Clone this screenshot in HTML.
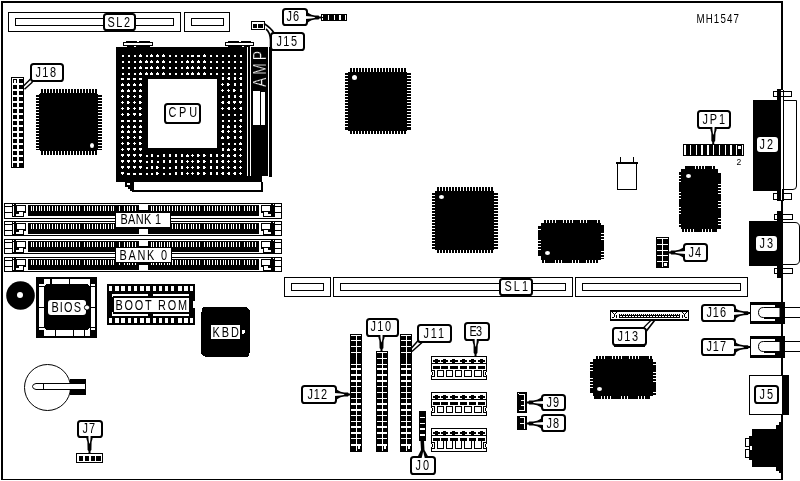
<!DOCTYPE html>
<html><head><meta charset="utf-8"><title>MH1547 motherboard layout</title>
<style>
html,body{margin:0;padding:0;background:#fff;}
body{width:800px;height:481px;overflow:hidden;}
svg{display:block;filter:grayscale(1);font-family:"Liberation Sans",sans-serif;}
</style></head><body>
<svg width="800" height="481" viewBox="0 0 800 481" shape-rendering="crispEdges">
<rect x="0" y="0" width="800" height="481" fill="#fff"/>
<rect x="1" y="1" width="782" height="2" fill="#000"/>
<rect x="1" y="1" width="2" height="479" fill="#000"/>
<rect x="1" y="479" width="782" height="1" fill="#000"/>
<rect x="781" y="1" width="2" height="479" fill="#000"/>
<rect x="8" y="12" width="173" height="20" fill="#000"/>
<rect x="9" y="13" width="171" height="18" fill="#fff"/>
<rect x="15" y="18" width="159" height="8" fill="#000"/>
<rect x="16" y="19" width="157" height="6" fill="#fff"/>
<rect x="184" y="12" width="46" height="20" fill="#000"/>
<rect x="185" y="13" width="44" height="18" fill="#fff"/>
<rect x="191" y="18" width="33" height="8" fill="#000"/>
<rect x="192" y="19" width="31" height="6" fill="#fff"/>
<rect x="104.0" y="14.0" width="31" height="16" rx="2.6" ry="2.6" fill="#fff" stroke="#000" stroke-width="2" shape-rendering="auto"/>
<text transform="translate(107.4,27) scale(0.78,1)" font-size="14" textLength="29.0" lengthAdjust="spacing" fill="#000" >SL2</text>
<rect x="283.0" y="9.0" width="24" height="16" rx="2.6" ry="2.6" fill="#fff" stroke="#000" stroke-width="2" shape-rendering="auto"/>
<text transform="translate(286.4,21) scale(0.78,1)" font-size="14" textLength="16.2" lengthAdjust="spacing" fill="#000" >J6</text>
<polygon points="307.5,12.2 309.25,13.6 311.55,14.7 314.93,15.45 318.57,15.6 319.38,16.5 321.0,16.5 321.0,18.5 319.38,18.5 318.57,19.4 314.93,19.55 311.55,20.3 309.25,21.4 307.5,22.8" fill="#000" shape-rendering="auto"/>
<polygon points="305.2,15.95 311.28,16.45 314.25,17.0 315.33,17.5 314.25,18.0 311.28,18.55 305.2,19.05" fill="#fff" shape-rendering="auto"/>
<rect x="321" y="14" width="26" height="7" fill="#000"/>
<rect x="322" y="15" width="1" height="5" fill="#fff"/>
<rect x="328" y="15" width="1" height="5" fill="#fff"/>
<rect x="334" y="15" width="1" height="5" fill="#fff"/>
<rect x="339" y="15" width="2" height="5" fill="#fff"/>
<rect x="345" y="15" width="1" height="5" fill="#fff"/>
<rect x="322" y="17" width="1" height="1" fill="#000"/>
<rect x="251" y="21" width="14" height="9" fill="#000"/>
<rect x="252" y="22" width="12" height="7" fill="#fff"/>
<rect x="253" y="24" width="4" height="4" fill="#000"/>
<rect x="258" y="24" width="5" height="4" fill="#000"/>
<path d="M264 23.5 Q271 28 274 33 M266 29 Q270 32 270.5 40 L270.5 47" fill="none" stroke="#000" stroke-width="1.6" shape-rendering="auto"/>
<rect x="271.0" y="33.0" width="33" height="17" rx="2.6" ry="2.6" fill="#fff" stroke="#000" stroke-width="2" shape-rendering="auto"/>
<text transform="translate(276.4,46) scale(0.78,1)" font-size="14" textLength="26.4" lengthAdjust="spacing" fill="#000" >J15</text>
<rect x="126" y="41" width="24" height="1" fill="#000"/>
<rect x="123" y="42" width="30" height="4" fill="#000"/>
<rect x="124" y="43" width="28" height="2" fill="#fff"/>
<rect x="137" y="41" width="2" height="1" fill="#fff"/>
<rect x="228" y="41" width="23" height="1" fill="#000"/>
<rect x="225" y="42" width="29" height="4" fill="#000"/>
<rect x="226" y="43" width="27" height="2" fill="#fff"/>
<rect x="239" y="41" width="2" height="1" fill="#fff"/>
<rect x="127" y="46" width="7" height="1" fill="#000"/>
<rect x="136" y="46" width="14" height="1" fill="#000"/>
<rect x="228" y="46" width="14" height="1" fill="#000"/>
<rect x="244" y="46" width="6" height="1" fill="#000"/>
<rect x="116" y="47" width="131" height="135" fill="#000"/>
<rect x="248" y="47" width="2" height="129" fill="#000"/>
<rect x="251" y="47" width="17" height="129" fill="#000"/>
<rect x="269" y="47" width="3" height="130" fill="#000"/>
<rect x="247" y="176" width="15" height="6" fill="#000"/>
<rect x="132" y="182" width="131" height="10" fill="#000"/>
<rect x="134" y="182" width="127" height="8" fill="#fff"/>
<rect x="125" y="182" width="9" height="5" fill="#000"/>
<rect x="128" y="187" width="6" height="2" fill="#000"/>
<rect x="130" y="189" width="4" height="2" fill="#000"/>
<rect x="127" y="183" width="3" height="2" fill="#fff"/>
<rect x="148" y="79" width="69" height="69" fill="#fff"/>
<path d="M122 55h2v1h-2zM122 56h2v1h-2zM128 55h2v1h-2zM128 56h2v1h-2zM134 55h2v1h-2zM134 56h2v1h-2zM140 54h1v1h-1zM139 55h3v1h-3zM139 56h3v1h-3zM146 55h2v1h-2zM146 56h2v1h-2zM151 54h1v1h-1zM150 55h3v1h-3zM150 56h3v1h-3zM157 54h1v1h-1zM156 55h3v1h-3zM156 56h3v1h-3zM163 54h1v1h-1zM162 55h3v1h-3zM162 56h3v1h-3zM169 55h2v1h-2zM169 56h2v1h-2zM175 55h2v1h-2zM175 56h2v1h-2zM181 55h2v1h-2zM181 56h2v1h-2zM187 55h2v1h-2zM187 56h2v1h-2zM191 55h3v1h-3zM191 56h3v1h-3zM197 55h3v1h-3zM197 56h3v1h-3zM204 54h1v1h-1zM203 55h3v1h-3zM203 56h3v1h-3zM210 55h2v1h-2zM210 56h2v1h-2zM216 55h2v1h-2zM216 56h2v1h-2zM222 55h2v1h-2zM222 56h2v1h-2zM228 55h2v1h-2zM228 56h2v1h-2zM234 55h2v1h-2zM234 56h2v1h-2zM240 55h2v1h-2zM240 56h2v1h-2zM122 61h2v1h-2zM122 62h2v1h-2zM128 61h2v1h-2zM128 62h2v1h-2zM134 61h2v1h-2zM134 62h2v1h-2zM140 60h1v1h-1zM139 61h3v1h-3zM139 62h3v1h-3zM146 60h1v1h-1zM145 61h3v1h-3zM145 62h3v1h-3zM151 60h1v1h-1zM150 61h3v1h-3zM150 62h3v1h-3zM157 60h1v1h-1zM156 61h3v1h-3zM156 62h3v1h-3zM163 60h1v1h-1zM162 61h3v1h-3zM162 62h3v1h-3zM169 61h2v1h-2zM169 62h2v1h-2zM175 61h2v1h-2zM175 62h2v1h-2zM181 61h2v1h-2zM181 62h2v1h-2zM187 60h1v1h-1zM186 61h3v1h-3zM186 62h3v1h-3zM192 60h1v1h-1zM191 61h3v1h-3zM191 62h3v1h-3zM198 60h1v1h-1zM197 61h3v1h-3zM197 62h3v1h-3zM204 60h1v1h-1zM203 61h3v1h-3zM203 62h3v1h-3zM210 61h2v1h-2zM210 62h2v1h-2zM216 61h2v1h-2zM216 62h2v1h-2zM222 61h2v1h-2zM222 62h2v1h-2zM228 61h2v1h-2zM228 62h2v1h-2zM234 61h2v1h-2zM234 62h2v1h-2zM240 61h2v1h-2zM240 62h2v1h-2zM122 67h2v1h-2zM122 68h2v1h-2zM128 67h2v1h-2zM128 68h2v1h-2zM134 67h2v1h-2zM134 68h2v1h-2zM140 66h1v1h-1zM139 67h3v1h-3zM139 68h3v1h-3zM145 67h3v1h-3zM145 68h3v1h-3zM151 66h1v1h-1zM150 67h3v1h-3zM150 68h3v1h-3zM157 66h1v1h-1zM156 67h3v1h-3zM156 68h3v1h-3zM163 66h1v1h-1zM162 67h3v1h-3zM162 68h3v1h-3zM169 67h2v1h-2zM169 68h2v1h-2zM175 67h2v1h-2zM175 68h2v1h-2zM181 67h2v1h-2zM181 68h2v1h-2zM187 66h1v1h-1zM186 67h3v1h-3zM186 68h3v1h-3zM192 66h1v1h-1zM191 67h3v1h-3zM191 68h3v1h-3zM198 66h1v1h-1zM197 67h3v1h-3zM197 68h3v1h-3zM204 66h1v1h-1zM203 67h3v1h-3zM203 68h3v1h-3zM210 67h2v1h-2zM210 68h2v1h-2zM216 67h2v1h-2zM216 68h2v1h-2zM222 67h2v1h-2zM222 68h2v1h-2zM228 67h2v1h-2zM228 68h2v1h-2zM234 67h2v1h-2zM234 68h2v1h-2zM240 67h2v1h-2zM240 68h2v1h-2zM122 73h2v1h-2zM122 74h2v1h-2zM128 73h2v1h-2zM128 74h2v1h-2zM134 73h2v1h-2zM134 74h2v1h-2zM140 72h1v1h-1zM139 73h3v1h-3zM139 74h3v1h-3zM146 72h1v1h-1zM145 73h3v1h-3zM145 74h3v1h-3zM151 72h1v1h-1zM150 73h3v1h-3zM150 74h3v1h-3zM157 72h1v1h-1zM156 73h3v1h-3zM156 74h3v1h-3zM163 72h1v1h-1zM162 73h3v1h-3zM162 74h3v1h-3zM169 73h2v1h-2zM169 74h2v1h-2zM175 73h2v1h-2zM175 74h2v1h-2zM181 73h2v1h-2zM181 74h2v1h-2zM187 72h1v1h-1zM186 73h3v1h-3zM186 74h3v1h-3zM192 72h1v1h-1zM191 73h3v1h-3zM191 74h3v1h-3zM198 72h1v1h-1zM197 73h3v1h-3zM197 74h3v1h-3zM204 72h1v1h-1zM203 73h3v1h-3zM203 74h3v1h-3zM210 73h2v1h-2zM210 74h2v1h-2zM216 73h2v1h-2zM216 74h2v1h-2zM222 73h2v1h-2zM222 74h2v1h-2zM228 73h2v1h-2zM228 74h2v1h-2zM234 73h2v1h-2zM234 74h2v1h-2zM240 73h2v1h-2zM240 74h2v1h-2zM121 78h3v1h-3zM121 79h3v1h-3zM127 78h3v1h-3zM127 79h3v1h-3zM133 78h3v1h-3zM133 79h3v1h-3zM139 78h3v1h-3zM139 79h3v1h-3zM222 77h2v1h-2zM222 78h2v1h-2zM222 79h2v1h-2zM228 77h2v1h-2zM227 78h3v1h-3zM228 79h2v1h-2zM234 77h2v1h-2zM234 78h2v1h-2zM234 79h2v1h-2zM240 77h2v1h-2zM239 78h3v1h-3zM240 79h2v1h-2zM122 83h1v1h-1zM121 84h3v1h-3zM121 85h3v1h-3zM128 83h1v1h-1zM127 84h3v1h-3zM127 85h3v1h-3zM134 83h1v1h-1zM133 84h3v1h-3zM133 85h3v1h-3zM140 83h1v1h-1zM139 84h3v1h-3zM139 85h3v1h-3zM222 83h1v1h-1zM221 84h3v1h-3zM222 85h1v1h-1zM227 83h2v1h-2zM227 84h3v1h-3zM227 85h2v1h-2zM234 83h2v1h-2zM234 84h2v1h-2zM234 85h2v1h-2zM240 83h2v1h-2zM240 84h2v1h-2zM240 85h2v1h-2zM122 89h1v1h-1zM121 90h3v1h-3zM121 91h3v1h-3zM128 89h1v1h-1zM127 90h3v1h-3zM127 91h3v1h-3zM134 89h1v1h-1zM133 90h3v1h-3zM133 91h3v1h-3zM140 89h1v1h-1zM139 90h3v1h-3zM139 91h3v1h-3zM222 89h1v1h-1zM221 90h3v1h-3zM222 91h1v1h-1zM228 89h1v1h-1zM227 90h3v1h-3zM228 91h1v1h-1zM233 89h2v1h-2zM233 90h3v1h-3zM233 91h2v1h-2zM240 89h2v1h-2zM240 90h2v1h-2zM240 91h2v1h-2zM122 95h1v1h-1zM121 96h3v1h-3zM122 97h1v1h-1zM127 95h2v1h-2zM127 96h3v1h-3zM127 97h2v1h-2zM134 95h1v1h-1zM133 96h3v1h-3zM134 97h1v1h-1zM139 95h2v1h-2zM139 96h3v1h-3zM139 97h2v1h-2zM222 96h2v1h-2zM222 97h2v1h-2zM228 95h2v1h-2zM228 96h2v1h-2zM228 97h2v1h-2zM234 95h2v1h-2zM234 96h2v1h-2zM234 97h2v1h-2zM240 95h2v1h-2zM239 96h3v1h-3zM240 97h2v1h-2zM122 101h1v1h-1zM121 102h3v1h-3zM122 103h1v1h-1zM127 101h2v1h-2zM127 102h3v1h-3zM127 103h2v1h-2zM134 101h1v1h-1zM133 102h3v1h-3zM134 103h1v1h-1zM139 101h2v1h-2zM139 102h3v1h-3zM139 103h2v1h-2zM222 101h2v1h-2zM221 102h3v1h-3zM222 103h2v1h-2zM228 101h2v1h-2zM227 102h3v1h-3zM228 103h2v1h-2zM233 101h3v1h-3zM233 102h3v1h-3zM234 103h1v1h-1zM239 101h3v1h-3zM239 102h3v1h-3zM240 103h1v1h-1zM122 107h1v1h-1zM121 108h3v1h-3zM122 109h1v1h-1zM127 107h2v1h-2zM127 108h3v1h-3zM127 109h2v1h-2zM134 107h1v1h-1zM133 108h3v1h-3zM134 109h1v1h-1zM139 107h2v1h-2zM139 108h3v1h-3zM139 109h2v1h-2zM222 107h1v1h-1zM221 108h3v1h-3zM222 109h1v1h-1zM228 107h2v1h-2zM227 108h3v1h-3zM228 109h2v1h-2zM234 107h1v1h-1zM233 108h3v1h-3zM234 109h1v1h-1zM240 107h2v1h-2zM239 108h3v1h-3zM240 109h2v1h-2zM122 113h1v1h-1zM121 114h3v1h-3zM122 115h1v1h-1zM127 113h2v1h-2zM127 114h3v1h-3zM127 115h2v1h-2zM133 113h3v1h-3zM133 114h3v1h-3zM134 115h1v1h-1zM139 113h2v1h-2zM139 114h3v1h-3zM139 115h2v1h-2zM222 114h2v1h-2zM222 115h2v1h-2zM228 114h2v1h-2zM228 115h2v1h-2zM234 114h2v1h-2zM234 115h2v1h-2zM240 114h2v1h-2zM240 115h2v1h-2zM121 120h3v1h-3zM121 121h3v1h-3zM127 120h3v1h-3zM127 121h3v1h-3zM133 120h3v1h-3zM133 121h3v1h-3zM139 120h3v1h-3zM139 121h3v1h-3zM222 120h2v1h-2zM222 121h2v1h-2zM228 120h2v1h-2zM228 121h2v1h-2zM234 120h2v1h-2zM234 121h2v1h-2zM240 119h2v1h-2zM239 120h3v1h-3zM240 121h2v1h-2zM122 125h1v1h-1zM121 126h3v1h-3zM121 127h3v1h-3zM128 125h1v1h-1zM127 126h3v1h-3zM127 127h3v1h-3zM134 125h1v1h-1zM133 126h3v1h-3zM133 127h3v1h-3zM140 125h1v1h-1zM139 126h3v1h-3zM139 127h3v1h-3zM222 125h2v1h-2zM222 126h2v1h-2zM222 127h2v1h-2zM228 125h1v1h-1zM227 126h3v1h-3zM227 127h3v1h-3zM234 125h2v1h-2zM234 126h2v1h-2zM234 127h2v1h-2zM240 125h1v1h-1zM239 126h3v1h-3zM240 127h1v1h-1zM122 130h1v1h-1zM121 131h3v1h-3zM121 132h3v1h-3zM128 130h1v1h-1zM127 131h3v1h-3zM127 132h3v1h-3zM134 130h1v1h-1zM133 131h3v1h-3zM133 132h3v1h-3zM140 130h1v1h-1zM139 131h3v1h-3zM139 132h3v1h-3zM222 130h2v1h-2zM221 131h3v1h-3zM222 132h2v1h-2zM228 130h1v1h-1zM227 131h3v1h-3zM228 132h1v1h-1zM234 130h2v1h-2zM233 131h3v1h-3zM234 132h2v1h-2zM240 130h1v1h-1zM239 131h3v1h-3zM240 132h1v1h-1zM122 136h1v1h-1zM121 137h3v1h-3zM122 138h1v1h-1zM127 136h2v1h-2zM127 137h3v1h-3zM127 138h2v1h-2zM134 136h1v1h-1zM133 137h3v1h-3zM134 138h1v1h-1zM139 136h2v1h-2zM139 137h3v1h-3zM139 138h2v1h-2zM222 136h1v1h-1zM221 137h3v1h-3zM221 138h3v1h-3zM227 136h2v1h-2zM227 137h3v1h-3zM227 138h2v1h-2zM234 136h2v1h-2zM234 137h2v1h-2zM234 138h2v1h-2zM240 136h2v1h-2zM239 137h3v1h-3zM240 138h2v1h-2zM122 142h1v1h-1zM121 143h3v1h-3zM122 144h1v1h-1zM127 142h2v1h-2zM127 143h3v1h-3zM127 144h2v1h-2zM134 142h1v1h-1zM133 143h3v1h-3zM134 144h1v1h-1zM139 142h2v1h-2zM139 143h3v1h-3zM139 144h2v1h-2zM222 143h2v1h-2zM222 144h2v1h-2zM228 143h2v1h-2zM228 144h2v1h-2zM234 143h2v1h-2zM234 144h2v1h-2zM240 142h1v1h-1zM239 143h3v1h-3zM239 144h3v1h-3zM122 148h1v1h-1zM121 149h3v1h-3zM122 150h1v1h-1zM127 148h3v1h-3zM127 149h3v1h-3zM128 150h1v1h-1zM133 148h3v1h-3zM133 149h3v1h-3zM134 150h1v1h-1zM139 148h3v1h-3zM139 149h3v1h-3zM140 150h1v1h-1zM222 148h2v1h-2zM222 149h2v1h-2zM222 150h2v1h-2zM228 148h1v1h-1zM227 149h3v1h-3zM227 150h3v1h-3zM234 148h2v1h-2zM233 149h3v1h-3zM234 150h2v1h-2zM240 148h1v1h-1zM239 149h3v1h-3zM240 150h1v1h-1zM121 154h3v1h-3zM121 155h3v1h-3zM122 156h1v1h-1zM127 154h3v1h-3zM127 155h3v1h-3zM128 156h1v1h-1zM133 154h3v1h-3zM133 155h3v1h-3zM134 156h1v1h-1zM139 154h3v1h-3zM139 155h3v1h-3zM140 156h1v1h-1zM146 155h2v1h-2zM146 156h2v1h-2zM151 154h2v1h-2zM151 155h2v1h-2zM151 156h2v1h-2zM157 155h2v1h-2zM157 156h2v1h-2zM163 154h2v1h-2zM163 155h2v1h-2zM163 156h2v1h-2zM169 154h2v1h-2zM169 155h2v1h-2zM169 156h2v1h-2zM175 154h2v1h-2zM175 155h2v1h-2zM175 156h2v1h-2zM181 154h2v1h-2zM181 155h2v1h-2zM181 156h2v1h-2zM187 154h1v1h-1zM186 155h3v1h-3zM186 156h3v1h-3zM192 154h1v1h-1zM191 155h3v1h-3zM192 156h1v1h-1zM197 154h2v1h-2zM197 155h3v1h-3zM197 156h2v1h-2zM203 154h2v1h-2zM203 155h3v1h-3zM203 156h2v1h-2zM210 154h2v1h-2zM210 155h2v1h-2zM210 156h2v1h-2zM216 154h2v1h-2zM216 155h2v1h-2zM216 156h2v1h-2zM222 154h2v1h-2zM221 155h3v1h-3zM222 156h2v1h-2zM228 154h1v1h-1zM227 155h3v1h-3zM227 156h3v1h-3zM234 154h2v1h-2zM233 155h3v1h-3zM234 156h2v1h-2zM240 154h1v1h-1zM239 155h3v1h-3zM240 156h1v1h-1zM121 160h3v1h-3zM121 161h3v1h-3zM122 162h1v1h-1zM127 160h3v1h-3zM127 161h3v1h-3zM128 162h1v1h-1zM133 160h3v1h-3zM133 161h3v1h-3zM134 162h1v1h-1zM139 160h3v1h-3zM139 161h3v1h-3zM140 162h1v1h-1zM146 161h2v1h-2zM146 162h2v1h-2zM151 160h2v1h-2zM151 161h2v1h-2zM151 162h2v1h-2zM157 161h2v1h-2zM157 162h2v1h-2zM163 160h2v1h-2zM163 161h2v1h-2zM163 162h2v1h-2zM169 160h2v1h-2zM169 161h2v1h-2zM169 162h2v1h-2zM175 160h2v1h-2zM175 161h2v1h-2zM175 162h2v1h-2zM181 160h2v1h-2zM181 161h2v1h-2zM181 162h2v1h-2zM187 160h1v1h-1zM186 161h3v1h-3zM187 162h1v1h-1zM192 160h1v1h-1zM191 161h3v1h-3zM192 162h1v1h-1zM197 160h2v1h-2zM197 161h3v1h-3zM197 162h2v1h-2zM203 160h2v1h-2zM203 161h3v1h-3zM203 162h2v1h-2zM210 160h2v1h-2zM210 161h2v1h-2zM210 162h2v1h-2zM216 160h2v1h-2zM216 161h2v1h-2zM216 162h2v1h-2zM222 160h2v1h-2zM221 161h3v1h-3zM222 162h2v1h-2zM228 160h1v1h-1zM227 161h3v1h-3zM228 162h1v1h-1zM234 160h2v1h-2zM233 161h3v1h-3zM234 162h2v1h-2zM240 160h1v1h-1zM239 161h3v1h-3zM240 162h1v1h-1zM121 166h3v1h-3zM121 167h3v1h-3zM122 168h1v1h-1zM127 166h3v1h-3zM127 167h3v1h-3zM128 168h1v1h-1zM133 166h3v1h-3zM133 167h3v1h-3zM134 168h1v1h-1zM139 166h3v1h-3zM139 167h3v1h-3zM140 168h1v1h-1zM146 167h2v1h-2zM146 168h2v1h-2zM151 166h2v1h-2zM151 167h2v1h-2zM151 168h2v1h-2zM156 166h2v1h-2zM156 167h3v1h-3zM156 168h2v1h-2zM163 167h2v1h-2zM163 168h2v1h-2zM169 167h2v1h-2zM169 168h2v1h-2zM175 166h2v1h-2zM175 167h2v1h-2zM175 168h2v1h-2zM181 166h2v1h-2zM181 167h2v1h-2zM181 168h2v1h-2zM187 166h1v1h-1zM186 167h3v1h-3zM187 168h1v1h-1zM192 166h1v1h-1zM191 167h3v1h-3zM192 168h1v1h-1zM197 166h2v1h-2zM197 167h3v1h-3zM197 168h2v1h-2zM203 166h2v1h-2zM203 167h3v1h-3zM203 168h2v1h-2zM210 166h2v1h-2zM210 167h2v1h-2zM210 168h2v1h-2zM216 166h2v1h-2zM216 167h2v1h-2zM216 168h2v1h-2zM222 166h2v1h-2zM221 167h3v1h-3zM222 168h2v1h-2zM228 166h1v1h-1zM227 167h3v1h-3zM228 168h1v1h-1zM234 166h2v1h-2zM233 167h3v1h-3zM234 168h2v1h-2zM240 166h1v1h-1zM239 167h3v1h-3zM240 168h1v1h-1zM121 172h3v1h-3zM121 173h3v1h-3zM122 174h1v1h-1zM127 173h3v1h-3zM127 174h3v1h-3zM133 173h3v1h-3zM133 174h3v1h-3zM139 173h3v1h-3zM139 174h3v1h-3zM146 173h2v1h-2zM146 174h2v1h-2zM151 173h2v1h-2zM151 174h2v1h-2zM156 172h2v1h-2zM156 173h3v1h-3zM156 174h2v1h-2zM163 173h2v1h-2zM163 174h2v1h-2zM169 173h2v1h-2zM169 174h2v1h-2zM175 172h2v1h-2zM175 173h2v1h-2zM175 174h2v1h-2zM181 172h2v1h-2zM181 173h2v1h-2zM181 174h2v1h-2zM187 172h1v1h-1zM186 173h3v1h-3zM187 174h1v1h-1zM192 172h1v1h-1zM191 173h3v1h-3zM192 174h1v1h-1zM197 172h2v1h-2zM197 173h3v1h-3zM197 174h2v1h-2zM203 172h2v1h-2zM203 173h3v1h-3zM203 174h2v1h-2zM210 172h2v1h-2zM210 173h2v1h-2zM210 174h2v1h-2zM216 172h2v1h-2zM216 173h2v1h-2zM216 174h2v1h-2zM222 172h2v1h-2zM221 173h3v1h-3zM222 174h2v1h-2zM228 172h2v1h-2zM227 173h3v1h-3zM228 174h2v1h-2zM234 172h2v1h-2zM233 173h3v1h-3zM234 174h2v1h-2zM240 172h1v1h-1zM239 173h3v1h-3zM240 174h1v1h-1z" fill="#fff"/>
<rect x="165.0" y="104.0" width="35" height="19" rx="2.6" ry="2.6" fill="#fff" stroke="#000" stroke-width="2" shape-rendering="auto"/>
<text transform="translate(168.4,117) scale(0.78,1)" font-size="14" textLength="36.7" lengthAdjust="spacing" fill="#000" >CPU</text>
<text transform="translate(265.5,87) rotate(-90) scale(0.8,1)" font-size="17.5" fill="#fff" stroke="#000" stroke-width="0.35" textLength="45" lengthAdjust="spacing">AMP</text>
<rect x="253" y="91" width="7" height="34" fill="#fff"/>
<rect x="261" y="92" width="4" height="33" fill="#fff"/>
<rect x="11" y="77" width="13" height="91" fill="#000"/>
<rect x="12" y="78" width="11" height="89" fill="#fff"/>
<rect x="13" y="79" width="4" height="4" fill="#000"/>
<rect x="19" y="79" width="5" height="4" fill="#000"/>
<rect x="13" y="85" width="4" height="4" fill="#000"/>
<rect x="19" y="85" width="5" height="4" fill="#000"/>
<rect x="13" y="91" width="4" height="4" fill="#000"/>
<rect x="19" y="91" width="5" height="4" fill="#000"/>
<rect x="13" y="97" width="4" height="4" fill="#000"/>
<rect x="19" y="97" width="5" height="4" fill="#000"/>
<rect x="13" y="103" width="4" height="4" fill="#000"/>
<rect x="19" y="103" width="5" height="4" fill="#000"/>
<rect x="13" y="109" width="4" height="4" fill="#000"/>
<rect x="19" y="109" width="5" height="4" fill="#000"/>
<rect x="13" y="115" width="4" height="4" fill="#000"/>
<rect x="19" y="115" width="5" height="4" fill="#000"/>
<rect x="13" y="121" width="4" height="4" fill="#000"/>
<rect x="19" y="121" width="5" height="4" fill="#000"/>
<rect x="13" y="127" width="4" height="4" fill="#000"/>
<rect x="19" y="127" width="5" height="4" fill="#000"/>
<rect x="13" y="133" width="4" height="4" fill="#000"/>
<rect x="19" y="133" width="5" height="4" fill="#000"/>
<rect x="13" y="139" width="4" height="4" fill="#000"/>
<rect x="19" y="139" width="5" height="4" fill="#000"/>
<rect x="13" y="145" width="4" height="4" fill="#000"/>
<rect x="19" y="145" width="5" height="4" fill="#000"/>
<rect x="13" y="151" width="4" height="4" fill="#000"/>
<rect x="19" y="151" width="5" height="4" fill="#000"/>
<rect x="13" y="157" width="4" height="4" fill="#000"/>
<rect x="19" y="157" width="5" height="4" fill="#000"/>
<rect x="13" y="163" width="4" height="4" fill="#000"/>
<rect x="19" y="163" width="5" height="4" fill="#000"/>
<rect x="14" y="80" width="2" height="3" fill="#fff"/>
<path d="M23.5 86 L30.5 79 M24.5 89.2 L32.5 82" fill="none" stroke="#000" stroke-width="1.5" shape-rendering="auto"/>
<rect x="31.0" y="64.0" width="32" height="17" rx="2.6" ry="2.6" fill="#fff" stroke="#000" stroke-width="2" shape-rendering="auto"/>
<text transform="translate(35.4,77) scale(0.78,1)" font-size="14" textLength="26.4" lengthAdjust="spacing" fill="#000" >J18</text>
<rect x="39" y="93" width="59" height="58" fill="#000"/>
<rect x="36" y="95" width="3" height="55" fill="#000"/>
<rect x="98" y="95" width="4" height="55" fill="#000"/>
<rect x="41" y="89" width="56" height="4" fill="#000"/>
<rect x="41" y="151" width="56" height="4" fill="#000"/>
<rect x="36" y="97" width="3" height="1" fill="#fff"/>
<rect x="36" y="100" width="3" height="1" fill="#fff"/>
<rect x="36" y="103" width="3" height="1" fill="#fff"/>
<rect x="36" y="106" width="3" height="1" fill="#fff"/>
<rect x="36" y="109" width="3" height="1" fill="#fff"/>
<rect x="36" y="112" width="3" height="1" fill="#fff"/>
<rect x="36" y="115" width="3" height="1" fill="#fff"/>
<rect x="36" y="118" width="3" height="1" fill="#fff"/>
<rect x="36" y="121" width="3" height="1" fill="#fff"/>
<rect x="36" y="124" width="3" height="1" fill="#fff"/>
<rect x="36" y="127" width="3" height="1" fill="#fff"/>
<rect x="36" y="130" width="3" height="1" fill="#fff"/>
<rect x="36" y="133" width="3" height="1" fill="#fff"/>
<rect x="36" y="136" width="3" height="1" fill="#fff"/>
<rect x="36" y="139" width="3" height="1" fill="#fff"/>
<rect x="36" y="142" width="3" height="1" fill="#fff"/>
<rect x="36" y="145" width="3" height="1" fill="#fff"/>
<rect x="36" y="148" width="3" height="1" fill="#fff"/>
<rect x="98" y="97" width="4" height="1" fill="#fff"/>
<rect x="98" y="100" width="4" height="1" fill="#fff"/>
<rect x="98" y="103" width="4" height="1" fill="#fff"/>
<rect x="98" y="106" width="4" height="1" fill="#fff"/>
<rect x="98" y="109" width="4" height="1" fill="#fff"/>
<rect x="98" y="112" width="4" height="1" fill="#fff"/>
<rect x="98" y="115" width="4" height="1" fill="#fff"/>
<rect x="98" y="118" width="4" height="1" fill="#fff"/>
<rect x="98" y="121" width="4" height="1" fill="#fff"/>
<rect x="98" y="124" width="4" height="1" fill="#fff"/>
<rect x="98" y="127" width="4" height="1" fill="#fff"/>
<rect x="98" y="130" width="4" height="1" fill="#fff"/>
<rect x="98" y="133" width="4" height="1" fill="#fff"/>
<rect x="98" y="136" width="4" height="1" fill="#fff"/>
<rect x="98" y="139" width="4" height="1" fill="#fff"/>
<rect x="98" y="142" width="4" height="1" fill="#fff"/>
<rect x="98" y="145" width="4" height="1" fill="#fff"/>
<rect x="98" y="148" width="4" height="1" fill="#fff"/>
<rect x="43" y="89" width="1" height="4" fill="#fff"/>
<rect x="46" y="89" width="1" height="4" fill="#fff"/>
<rect x="49" y="89" width="1" height="4" fill="#fff"/>
<rect x="52" y="89" width="1" height="4" fill="#fff"/>
<rect x="55" y="89" width="1" height="4" fill="#fff"/>
<rect x="58" y="89" width="1" height="4" fill="#fff"/>
<rect x="61" y="89" width="1" height="4" fill="#fff"/>
<rect x="64" y="89" width="1" height="4" fill="#fff"/>
<rect x="67" y="89" width="1" height="4" fill="#fff"/>
<rect x="70" y="89" width="1" height="4" fill="#fff"/>
<rect x="73" y="89" width="1" height="4" fill="#fff"/>
<rect x="76" y="89" width="1" height="4" fill="#fff"/>
<rect x="79" y="89" width="1" height="4" fill="#fff"/>
<rect x="82" y="89" width="1" height="4" fill="#fff"/>
<rect x="85" y="89" width="1" height="4" fill="#fff"/>
<rect x="88" y="89" width="1" height="4" fill="#fff"/>
<rect x="91" y="89" width="1" height="4" fill="#fff"/>
<rect x="94" y="89" width="1" height="4" fill="#fff"/>
<rect x="43" y="151" width="1" height="4" fill="#fff"/>
<rect x="46" y="151" width="1" height="4" fill="#fff"/>
<rect x="49" y="151" width="1" height="4" fill="#fff"/>
<rect x="52" y="151" width="1" height="4" fill="#fff"/>
<rect x="55" y="151" width="1" height="4" fill="#fff"/>
<rect x="58" y="151" width="1" height="4" fill="#fff"/>
<rect x="61" y="151" width="1" height="4" fill="#fff"/>
<rect x="64" y="151" width="1" height="4" fill="#fff"/>
<rect x="67" y="151" width="1" height="4" fill="#fff"/>
<rect x="70" y="151" width="1" height="4" fill="#fff"/>
<rect x="73" y="151" width="1" height="4" fill="#fff"/>
<rect x="76" y="151" width="1" height="4" fill="#fff"/>
<rect x="79" y="151" width="1" height="4" fill="#fff"/>
<rect x="82" y="151" width="1" height="4" fill="#fff"/>
<rect x="85" y="151" width="1" height="4" fill="#fff"/>
<rect x="88" y="151" width="1" height="4" fill="#fff"/>
<rect x="91" y="151" width="1" height="4" fill="#fff"/>
<rect x="94" y="151" width="1" height="4" fill="#fff"/>
<ellipse cx="92.0" cy="145.5" rx="2.0" ry="2.5" fill="#fff" shape-rendering="auto"/>
<rect x="39" y="93" width="1" height="1" fill="#fff"/>
<rect x="97" y="93" width="1" height="1" fill="#fff"/>
<rect x="39" y="150" width="1" height="1" fill="#fff"/>
<rect x="97" y="150" width="1" height="1" fill="#fff"/>
<rect x="348" y="72" width="59" height="59" fill="#000"/>
<rect x="345" y="73" width="3" height="57" fill="#000"/>
<rect x="407" y="73" width="4" height="57" fill="#000"/>
<rect x="350" y="68" width="56" height="4" fill="#000"/>
<rect x="350" y="131" width="56" height="3" fill="#000"/>
<rect x="345" y="75" width="3" height="1" fill="#fff"/>
<rect x="345" y="78" width="3" height="1" fill="#fff"/>
<rect x="345" y="81" width="3" height="1" fill="#fff"/>
<rect x="345" y="84" width="3" height="1" fill="#fff"/>
<rect x="345" y="87" width="3" height="1" fill="#fff"/>
<rect x="345" y="90" width="3" height="1" fill="#fff"/>
<rect x="345" y="93" width="3" height="1" fill="#fff"/>
<rect x="345" y="96" width="3" height="1" fill="#fff"/>
<rect x="345" y="99" width="3" height="1" fill="#fff"/>
<rect x="345" y="102" width="3" height="1" fill="#fff"/>
<rect x="345" y="105" width="3" height="1" fill="#fff"/>
<rect x="345" y="108" width="3" height="1" fill="#fff"/>
<rect x="345" y="111" width="3" height="1" fill="#fff"/>
<rect x="345" y="114" width="3" height="1" fill="#fff"/>
<rect x="345" y="117" width="3" height="1" fill="#fff"/>
<rect x="345" y="120" width="3" height="1" fill="#fff"/>
<rect x="345" y="123" width="3" height="1" fill="#fff"/>
<rect x="345" y="126" width="3" height="1" fill="#fff"/>
<rect x="407" y="75" width="4" height="1" fill="#fff"/>
<rect x="407" y="78" width="4" height="1" fill="#fff"/>
<rect x="407" y="81" width="4" height="1" fill="#fff"/>
<rect x="407" y="84" width="4" height="1" fill="#fff"/>
<rect x="407" y="87" width="4" height="1" fill="#fff"/>
<rect x="407" y="90" width="4" height="1" fill="#fff"/>
<rect x="407" y="93" width="4" height="1" fill="#fff"/>
<rect x="407" y="96" width="4" height="1" fill="#fff"/>
<rect x="407" y="99" width="4" height="1" fill="#fff"/>
<rect x="407" y="102" width="4" height="1" fill="#fff"/>
<rect x="407" y="105" width="4" height="1" fill="#fff"/>
<rect x="407" y="108" width="4" height="1" fill="#fff"/>
<rect x="407" y="111" width="4" height="1" fill="#fff"/>
<rect x="407" y="114" width="4" height="1" fill="#fff"/>
<rect x="407" y="117" width="4" height="1" fill="#fff"/>
<rect x="407" y="120" width="4" height="1" fill="#fff"/>
<rect x="407" y="123" width="4" height="1" fill="#fff"/>
<rect x="407" y="126" width="4" height="1" fill="#fff"/>
<rect x="352" y="68" width="1" height="4" fill="#fff"/>
<rect x="355" y="68" width="1" height="4" fill="#fff"/>
<rect x="358" y="68" width="1" height="4" fill="#fff"/>
<rect x="361" y="68" width="1" height="4" fill="#fff"/>
<rect x="364" y="68" width="1" height="4" fill="#fff"/>
<rect x="367" y="68" width="1" height="4" fill="#fff"/>
<rect x="370" y="68" width="1" height="4" fill="#fff"/>
<rect x="373" y="68" width="1" height="4" fill="#fff"/>
<rect x="376" y="68" width="1" height="4" fill="#fff"/>
<rect x="379" y="68" width="1" height="4" fill="#fff"/>
<rect x="382" y="68" width="1" height="4" fill="#fff"/>
<rect x="385" y="68" width="1" height="4" fill="#fff"/>
<rect x="388" y="68" width="1" height="4" fill="#fff"/>
<rect x="391" y="68" width="1" height="4" fill="#fff"/>
<rect x="394" y="68" width="1" height="4" fill="#fff"/>
<rect x="397" y="68" width="1" height="4" fill="#fff"/>
<rect x="400" y="68" width="1" height="4" fill="#fff"/>
<rect x="403" y="68" width="1" height="4" fill="#fff"/>
<rect x="352" y="131" width="1" height="3" fill="#fff"/>
<rect x="355" y="131" width="1" height="3" fill="#fff"/>
<rect x="358" y="131" width="1" height="3" fill="#fff"/>
<rect x="361" y="131" width="1" height="3" fill="#fff"/>
<rect x="364" y="131" width="1" height="3" fill="#fff"/>
<rect x="367" y="131" width="1" height="3" fill="#fff"/>
<rect x="370" y="131" width="1" height="3" fill="#fff"/>
<rect x="373" y="131" width="1" height="3" fill="#fff"/>
<rect x="376" y="131" width="1" height="3" fill="#fff"/>
<rect x="379" y="131" width="1" height="3" fill="#fff"/>
<rect x="382" y="131" width="1" height="3" fill="#fff"/>
<rect x="385" y="131" width="1" height="3" fill="#fff"/>
<rect x="388" y="131" width="1" height="3" fill="#fff"/>
<rect x="391" y="131" width="1" height="3" fill="#fff"/>
<rect x="394" y="131" width="1" height="3" fill="#fff"/>
<rect x="397" y="131" width="1" height="3" fill="#fff"/>
<rect x="400" y="131" width="1" height="3" fill="#fff"/>
<rect x="403" y="131" width="1" height="3" fill="#fff"/>
<ellipse cx="354.5" cy="77.5" rx="2.5" ry="2.5" fill="#fff" shape-rendering="auto"/>
<rect x="435" y="191" width="59" height="59" fill="#000"/>
<rect x="432" y="193" width="3" height="56" fill="#000"/>
<rect x="494" y="193" width="4" height="56" fill="#000"/>
<rect x="437" y="187" width="56" height="4" fill="#000"/>
<rect x="437" y="250" width="56" height="3" fill="#000"/>
<rect x="432" y="195" width="3" height="1" fill="#fff"/>
<rect x="432" y="198" width="3" height="1" fill="#fff"/>
<rect x="432" y="201" width="3" height="1" fill="#fff"/>
<rect x="432" y="204" width="3" height="1" fill="#fff"/>
<rect x="432" y="207" width="3" height="1" fill="#fff"/>
<rect x="432" y="210" width="3" height="1" fill="#fff"/>
<rect x="432" y="213" width="3" height="1" fill="#fff"/>
<rect x="432" y="216" width="3" height="1" fill="#fff"/>
<rect x="432" y="219" width="3" height="1" fill="#fff"/>
<rect x="432" y="222" width="3" height="1" fill="#fff"/>
<rect x="432" y="225" width="3" height="1" fill="#fff"/>
<rect x="432" y="228" width="3" height="1" fill="#fff"/>
<rect x="432" y="231" width="3" height="1" fill="#fff"/>
<rect x="432" y="234" width="3" height="1" fill="#fff"/>
<rect x="432" y="237" width="3" height="1" fill="#fff"/>
<rect x="432" y="240" width="3" height="1" fill="#fff"/>
<rect x="432" y="243" width="3" height="1" fill="#fff"/>
<rect x="432" y="246" width="3" height="1" fill="#fff"/>
<rect x="494" y="195" width="4" height="1" fill="#fff"/>
<rect x="494" y="198" width="4" height="1" fill="#fff"/>
<rect x="494" y="201" width="4" height="1" fill="#fff"/>
<rect x="494" y="204" width="4" height="1" fill="#fff"/>
<rect x="494" y="207" width="4" height="1" fill="#fff"/>
<rect x="494" y="210" width="4" height="1" fill="#fff"/>
<rect x="494" y="213" width="4" height="1" fill="#fff"/>
<rect x="494" y="216" width="4" height="1" fill="#fff"/>
<rect x="494" y="219" width="4" height="1" fill="#fff"/>
<rect x="494" y="222" width="4" height="1" fill="#fff"/>
<rect x="494" y="225" width="4" height="1" fill="#fff"/>
<rect x="494" y="228" width="4" height="1" fill="#fff"/>
<rect x="494" y="231" width="4" height="1" fill="#fff"/>
<rect x="494" y="234" width="4" height="1" fill="#fff"/>
<rect x="494" y="237" width="4" height="1" fill="#fff"/>
<rect x="494" y="240" width="4" height="1" fill="#fff"/>
<rect x="494" y="243" width="4" height="1" fill="#fff"/>
<rect x="494" y="246" width="4" height="1" fill="#fff"/>
<rect x="439" y="187" width="1" height="4" fill="#fff"/>
<rect x="442" y="187" width="1" height="4" fill="#fff"/>
<rect x="445" y="187" width="1" height="4" fill="#fff"/>
<rect x="448" y="187" width="1" height="4" fill="#fff"/>
<rect x="451" y="187" width="1" height="4" fill="#fff"/>
<rect x="454" y="187" width="1" height="4" fill="#fff"/>
<rect x="457" y="187" width="1" height="4" fill="#fff"/>
<rect x="460" y="187" width="1" height="4" fill="#fff"/>
<rect x="463" y="187" width="1" height="4" fill="#fff"/>
<rect x="466" y="187" width="1" height="4" fill="#fff"/>
<rect x="469" y="187" width="1" height="4" fill="#fff"/>
<rect x="472" y="187" width="1" height="4" fill="#fff"/>
<rect x="475" y="187" width="1" height="4" fill="#fff"/>
<rect x="478" y="187" width="1" height="4" fill="#fff"/>
<rect x="481" y="187" width="1" height="4" fill="#fff"/>
<rect x="484" y="187" width="1" height="4" fill="#fff"/>
<rect x="487" y="187" width="1" height="4" fill="#fff"/>
<rect x="490" y="187" width="1" height="4" fill="#fff"/>
<rect x="439" y="250" width="1" height="3" fill="#fff"/>
<rect x="442" y="250" width="1" height="3" fill="#fff"/>
<rect x="445" y="250" width="1" height="3" fill="#fff"/>
<rect x="448" y="250" width="1" height="3" fill="#fff"/>
<rect x="451" y="250" width="1" height="3" fill="#fff"/>
<rect x="454" y="250" width="1" height="3" fill="#fff"/>
<rect x="457" y="250" width="1" height="3" fill="#fff"/>
<rect x="460" y="250" width="1" height="3" fill="#fff"/>
<rect x="463" y="250" width="1" height="3" fill="#fff"/>
<rect x="466" y="250" width="1" height="3" fill="#fff"/>
<rect x="469" y="250" width="1" height="3" fill="#fff"/>
<rect x="472" y="250" width="1" height="3" fill="#fff"/>
<rect x="475" y="250" width="1" height="3" fill="#fff"/>
<rect x="478" y="250" width="1" height="3" fill="#fff"/>
<rect x="481" y="250" width="1" height="3" fill="#fff"/>
<rect x="484" y="250" width="1" height="3" fill="#fff"/>
<rect x="487" y="250" width="1" height="3" fill="#fff"/>
<rect x="490" y="250" width="1" height="3" fill="#fff"/>
<ellipse cx="441.5" cy="197.0" rx="2.5" ry="2.0" fill="#fff" shape-rendering="auto"/>
<rect x="541" y="223" width="60" height="37" fill="#000"/>
<rect x="538" y="226" width="3" height="30" fill="#000"/>
<rect x="601" y="225" width="3" height="34" fill="#000"/>
<rect x="544" y="220" width="56" height="3" fill="#000"/>
<rect x="542" y="260" width="56" height="3" fill="#000"/>
<rect x="538" y="229" width="3" height="1" fill="#fff"/>
<rect x="538" y="240" width="3" height="1" fill="#fff"/>
<rect x="538" y="243" width="3" height="1" fill="#fff"/>
<rect x="538" y="246" width="3" height="1" fill="#fff"/>
<rect x="538" y="249" width="3" height="1" fill="#fff"/>
<rect x="601" y="233" width="3" height="1" fill="#fff"/>
<rect x="601" y="236" width="3" height="1" fill="#fff"/>
<rect x="601" y="239" width="3" height="1" fill="#fff"/>
<rect x="601" y="251" width="3" height="1" fill="#fff"/>
<rect x="601" y="254" width="3" height="1" fill="#fff"/>
<rect x="601" y="257" width="3" height="1" fill="#fff"/>
<rect x="546" y="220" width="1" height="3" fill="#fff"/>
<rect x="549" y="220" width="1" height="3" fill="#fff"/>
<rect x="552" y="220" width="1" height="3" fill="#fff"/>
<rect x="555" y="220" width="1" height="3" fill="#fff"/>
<rect x="563" y="220" width="1" height="3" fill="#fff"/>
<rect x="566" y="220" width="1" height="3" fill="#fff"/>
<rect x="569" y="220" width="1" height="3" fill="#fff"/>
<rect x="572" y="220" width="1" height="3" fill="#fff"/>
<rect x="580" y="220" width="1" height="3" fill="#fff"/>
<rect x="583" y="220" width="1" height="3" fill="#fff"/>
<rect x="586" y="220" width="1" height="3" fill="#fff"/>
<rect x="597" y="220" width="1" height="3" fill="#fff"/>
<rect x="544" y="260" width="1" height="3" fill="#fff"/>
<rect x="555" y="260" width="1" height="3" fill="#fff"/>
<rect x="558" y="260" width="1" height="3" fill="#fff"/>
<rect x="561" y="260" width="1" height="3" fill="#fff"/>
<rect x="572" y="260" width="1" height="3" fill="#fff"/>
<rect x="575" y="260" width="1" height="3" fill="#fff"/>
<rect x="578" y="260" width="1" height="3" fill="#fff"/>
<rect x="586" y="260" width="1" height="3" fill="#fff"/>
<rect x="589" y="260" width="1" height="3" fill="#fff"/>
<rect x="592" y="260" width="1" height="3" fill="#fff"/>
<rect x="595" y="260" width="1" height="3" fill="#fff"/>
<ellipse cx="547.5" cy="253.0" rx="2.5" ry="2.0" fill="#fff" shape-rendering="auto"/>
<rect x="681" y="169" width="37" height="60" fill="#000"/>
<rect x="679" y="172" width="2" height="55" fill="#000"/>
<rect x="718" y="173" width="3" height="56" fill="#000"/>
<rect x="685" y="166" width="30" height="3" fill="#000"/>
<rect x="682" y="229" width="35" height="3" fill="#000"/>
<rect x="679" y="175" width="2" height="1" fill="#fff"/>
<rect x="679" y="178" width="2" height="1" fill="#fff"/>
<rect x="679" y="181" width="2" height="1" fill="#fff"/>
<rect x="679" y="192" width="2" height="1" fill="#fff"/>
<rect x="679" y="195" width="2" height="1" fill="#fff"/>
<rect x="679" y="198" width="2" height="1" fill="#fff"/>
<rect x="679" y="207" width="2" height="1" fill="#fff"/>
<rect x="679" y="210" width="2" height="1" fill="#fff"/>
<rect x="679" y="213" width="2" height="1" fill="#fff"/>
<rect x="679" y="224" width="2" height="1" fill="#fff"/>
<rect x="718" y="184" width="3" height="1" fill="#fff"/>
<rect x="718" y="187" width="3" height="1" fill="#fff"/>
<rect x="718" y="190" width="3" height="1" fill="#fff"/>
<rect x="718" y="193" width="3" height="1" fill="#fff"/>
<rect x="718" y="201" width="3" height="1" fill="#fff"/>
<rect x="718" y="204" width="3" height="1" fill="#fff"/>
<rect x="718" y="207" width="3" height="1" fill="#fff"/>
<rect x="718" y="218" width="3" height="1" fill="#fff"/>
<rect x="718" y="221" width="3" height="1" fill="#fff"/>
<rect x="718" y="224" width="3" height="1" fill="#fff"/>
<rect x="695" y="166" width="1" height="3" fill="#fff"/>
<rect x="698" y="166" width="1" height="3" fill="#fff"/>
<rect x="701" y="166" width="1" height="3" fill="#fff"/>
<rect x="704" y="166" width="1" height="3" fill="#fff"/>
<rect x="712" y="166" width="1" height="3" fill="#fff"/>
<rect x="684" y="229" width="1" height="3" fill="#fff"/>
<rect x="687" y="229" width="1" height="3" fill="#fff"/>
<rect x="690" y="229" width="1" height="3" fill="#fff"/>
<rect x="693" y="229" width="1" height="3" fill="#fff"/>
<rect x="702" y="229" width="1" height="3" fill="#fff"/>
<rect x="705" y="229" width="1" height="3" fill="#fff"/>
<rect x="708" y="229" width="1" height="3" fill="#fff"/>
<rect x="711" y="229" width="1" height="3" fill="#fff"/>
<ellipse cx="688.5" cy="176.0" rx="2.5" ry="2.0" fill="#fff" shape-rendering="auto"/>
<rect x="593" y="359" width="60" height="37" fill="#000"/>
<rect x="590" y="362" width="3" height="31" fill="#000"/>
<rect x="653" y="362" width="3" height="33" fill="#000"/>
<rect x="596" y="356" width="56" height="3" fill="#000"/>
<rect x="594" y="396" width="56" height="3" fill="#000"/>
<rect x="590" y="364" width="3" height="1" fill="#fff"/>
<rect x="590" y="367" width="3" height="1" fill="#fff"/>
<rect x="590" y="370" width="3" height="1" fill="#fff"/>
<rect x="590" y="378" width="3" height="1" fill="#fff"/>
<rect x="590" y="381" width="3" height="1" fill="#fff"/>
<rect x="590" y="384" width="3" height="1" fill="#fff"/>
<rect x="590" y="387" width="3" height="1" fill="#fff"/>
<rect x="653" y="364" width="3" height="1" fill="#fff"/>
<rect x="653" y="372" width="3" height="1" fill="#fff"/>
<rect x="653" y="375" width="3" height="1" fill="#fff"/>
<rect x="653" y="378" width="3" height="1" fill="#fff"/>
<rect x="653" y="381" width="3" height="1" fill="#fff"/>
<rect x="653" y="392" width="3" height="1" fill="#fff"/>
<rect x="598" y="356" width="1" height="3" fill="#fff"/>
<rect x="601" y="356" width="1" height="3" fill="#fff"/>
<rect x="604" y="356" width="1" height="3" fill="#fff"/>
<rect x="612" y="356" width="1" height="3" fill="#fff"/>
<rect x="615" y="356" width="1" height="3" fill="#fff"/>
<rect x="618" y="356" width="1" height="3" fill="#fff"/>
<rect x="621" y="356" width="1" height="3" fill="#fff"/>
<rect x="629" y="356" width="1" height="3" fill="#fff"/>
<rect x="632" y="356" width="1" height="3" fill="#fff"/>
<rect x="635" y="356" width="1" height="3" fill="#fff"/>
<rect x="638" y="356" width="1" height="3" fill="#fff"/>
<rect x="649" y="356" width="1" height="3" fill="#fff"/>
<rect x="601" y="396" width="1" height="3" fill="#fff"/>
<rect x="604" y="396" width="1" height="3" fill="#fff"/>
<rect x="607" y="396" width="1" height="3" fill="#fff"/>
<rect x="610" y="396" width="1" height="3" fill="#fff"/>
<rect x="621" y="396" width="1" height="3" fill="#fff"/>
<rect x="624" y="396" width="1" height="3" fill="#fff"/>
<rect x="627" y="396" width="1" height="3" fill="#fff"/>
<rect x="638" y="396" width="1" height="3" fill="#fff"/>
<rect x="641" y="396" width="1" height="3" fill="#fff"/>
<rect x="644" y="396" width="1" height="3" fill="#fff"/>
<ellipse cx="599.5" cy="389.0" rx="2.5" ry="2.0" fill="#fff" shape-rendering="auto"/>
<text transform="translate(696.4,23) scale(0.78,1)" font-size="12.5" textLength="54.6" lengthAdjust="spacing" fill="#000" >MH1547</text>
<rect x="698.0" y="111.0" width="32" height="17" rx="2.6" ry="2.6" fill="#fff" stroke="#000" stroke-width="2" shape-rendering="auto"/>
<text transform="translate(702.4,124) scale(0.78,1)" font-size="14" textLength="29.0" lengthAdjust="spacing" fill="#000" >JP1</text>
<polygon points="716.6,128.56 716.47,130.16 715.52,133.02 715.17,141.02 714.25,141.96 714.2,144.52 712.2,144.48 712.25,141.92 711.37,140.94 711.32,132.94 710.47,130.04 710.4,128.44" fill="#000" shape-rendering="auto"/>
<polygon points="714.64,126.22 714.47,130.12 713.91,133.31 713.38,134.9 712.91,133.29 712.47,130.08 712.44,126.18" fill="#fff" shape-rendering="auto"/>
<rect x="683" y="144" width="61" height="12" fill="#000"/>
<rect x="684" y="145" width="2" height="10" fill="#fff"/>
<rect x="690" y="145" width="1" height="10" fill="#fff"/>
<rect x="696" y="145" width="1" height="10" fill="#fff"/>
<rect x="701" y="145" width="2" height="10" fill="#fff"/>
<rect x="707" y="145" width="2" height="10" fill="#fff"/>
<rect x="713" y="145" width="1" height="10" fill="#fff"/>
<rect x="719" y="145" width="1" height="10" fill="#fff"/>
<rect x="725" y="145" width="1" height="10" fill="#fff"/>
<rect x="730" y="145" width="2" height="10" fill="#fff"/>
<rect x="736" y="145" width="1" height="10" fill="#fff"/>
<rect x="742" y="145" width="1" height="10" fill="#fff"/>
<rect x="738" y="146" width="3" height="3" fill="#fff"/>
<text transform="translate(736.4,165) scale(0.9,1)" font-size="9.5" textLength="5.1" lengthAdjust="spacing" fill="#000" >2</text>
<rect x="781" y="90" width="2" height="110" fill="#fff"/>
<rect x="773" y="91" width="19" height="6" fill="#000"/>
<rect x="774" y="92" width="17" height="4" fill="#fff"/>
<rect x="777" y="89" width="4" height="112" fill="#000"/>
<rect x="783" y="90" width="1" height="111" fill="#000"/>
<rect x="753" y="100" width="28" height="91" fill="#000"/>
<path d="M783.5 100.5 H796.5 V186 Q796.5 189.5 793 189.5 H783.5 Z" fill="#fff" stroke="#000" stroke-width="1" shape-rendering="auto"/>
<rect x="773" y="193" width="19" height="7" fill="#000"/>
<rect x="774" y="194" width="17" height="5" fill="#fff"/>
<rect x="777" y="189" width="4" height="12" fill="#000"/>
<rect x="781" y="189" width="1" height="11" fill="#fff"/>
<rect x="782" y="189" width="2" height="12" fill="#000"/>
<rect x="757" y="137" width="21" height="15" rx="3" fill="#fff" shape-rendering="auto"/>
<text transform="translate(759.4,149) scale(0.78,1)" font-size="14" textLength="17.4" lengthAdjust="spacing" fill="#000" >J2</text>
<rect x="774" y="214" width="19" height="6" fill="#000"/>
<rect x="775" y="215" width="17" height="4" fill="#fff"/>
<rect x="777" y="211" width="6" height="67" fill="#000"/>
<rect x="749" y="221" width="34" height="45" fill="#000"/>
<path d="M782.5 222.5 H795 Q799.5 222.5 799.5 227 V260 Q799.5 264.5 795 264.5 H782.5 Z" fill="#fff" stroke="#000" stroke-width="1" shape-rendering="auto"/>
<rect x="774" y="268" width="19" height="6" fill="#000"/>
<rect x="775" y="269" width="17" height="4" fill="#fff"/>
<rect x="777" y="266" width="6" height="12" fill="#000"/>
<rect x="756" y="236" width="21" height="15" rx="3" fill="#fff" shape-rendering="auto"/>
<text transform="translate(759.4,248) scale(0.78,1)" font-size="14" textLength="17.4" lengthAdjust="spacing" fill="#000" >J3</text>
<rect x="750" y="302" width="35" height="22" fill="#000"/>
<rect x="751" y="305" width="24" height="16" fill="#fff"/>
<path d="M780 307.5 H763.5 Q758.5 307.5 758.5 312.5 Q758.5 317.5 763.5 317.5 H780 Z" fill="#fff" stroke="#000" stroke-width="1" shape-rendering="auto"/>
<rect x="764" y="318" width="16" height="1" fill="#000"/>
<rect x="780" y="302" width="5" height="22" fill="#000"/>
<rect x="784" y="307" width="17" height="11" fill="#000"/>
<rect x="785" y="308" width="15" height="9" fill="#fff"/>
<rect x="702.0" y="305.0" width="33" height="16" rx="2.6" ry="2.6" fill="#fff" stroke="#000" stroke-width="2" shape-rendering="auto"/>
<text transform="translate(706.4,317) scale(0.78,1)" font-size="14" textLength="25.1" lengthAdjust="spacing" fill="#000" >J16</text>
<polygon points="735.36,308.1 737.35,309.45 739.93,310.48 743.7,311.13 747.75,311.17 748.67,312.05 750.47,312.0 750.53,314.0 748.73,314.05 747.85,314.97 743.8,315.23 740.07,316.08 737.55,317.25 735.64,318.7" fill="#000" shape-rendering="auto"/>
<polygon points="733.16,311.91 739.67,312.24 742.99,312.7 744.2,313.17 743.01,313.7 739.73,314.34 733.24,315.01" fill="#fff" shape-rendering="auto"/>
<rect x="750" y="336" width="35" height="22" fill="#000"/>
<rect x="751" y="339" width="24" height="16" fill="#fff"/>
<path d="M780 341.5 H763.5 Q758.5 341.5 758.5 346.5 Q758.5 351.5 763.5 351.5 H780 Z" fill="#fff" stroke="#000" stroke-width="1" shape-rendering="auto"/>
<rect x="764" y="352" width="16" height="1" fill="#000"/>
<rect x="780" y="336" width="5" height="22" fill="#000"/>
<rect x="784" y="341" width="17" height="11" fill="#000"/>
<rect x="785" y="342" width="15" height="9" fill="#fff"/>
<rect x="702.0" y="339.0" width="33" height="16" rx="2.6" ry="2.6" fill="#fff" stroke="#000" stroke-width="2" shape-rendering="auto"/>
<text transform="translate(706.4,351) scale(0.78,1)" font-size="14" textLength="25.1" lengthAdjust="spacing" fill="#000" >J17</text>
<polygon points="735.36,342.1 737.35,343.45 739.93,344.48 743.7,345.13 747.75,345.17 748.67,346.05 750.47,346.0 750.53,348.0 748.73,348.05 747.85,348.97 743.8,349.23 740.07,350.08 737.55,351.25 735.64,352.7" fill="#000" shape-rendering="auto"/>
<polygon points="733.16,345.91 739.67,346.24 742.99,346.7 744.2,347.17 743.01,347.7 739.73,348.34 733.24,349.01" fill="#fff" shape-rendering="auto"/>
<rect x="749" y="375" width="34" height="40" fill="#000"/>
<rect x="750" y="376" width="32" height="38" fill="#fff"/>
<rect x="782" y="375" width="7" height="40" fill="#000"/>
<rect x="755.0" y="386.0" width="23" height="17" rx="2.6" ry="2.6" fill="#fff" stroke="#000" stroke-width="2" shape-rendering="auto"/>
<text transform="translate(759.4,399) scale(0.78,1)" font-size="14" textLength="17.4" lengthAdjust="spacing" fill="#000" >J5</text>
<rect x="752" y="429" width="24" height="38" fill="#000"/>
<rect x="749" y="436" width="3" height="24" fill="#000"/>
<rect x="776" y="425" width="3" height="46" fill="#000"/>
<rect x="779" y="422" width="2" height="51" fill="#000"/>
<rect x="745" y="438" width="5" height="9" fill="#000"/>
<rect x="746" y="439" width="3" height="7" fill="#fff"/>
<rect x="745" y="449" width="5" height="9" fill="#000"/>
<rect x="746" y="450" width="3" height="7" fill="#fff"/>
<rect x="750" y="446" width="2" height="4" fill="#fff"/>
<rect x="620" y="157" width="1" height="5" fill="#000"/>
<rect x="633" y="157" width="1" height="5" fill="#000"/>
<rect x="616" y="162" width="22" height="2" fill="#000"/>
<rect x="617" y="163" width="20" height="27" fill="#000"/>
<rect x="618" y="164" width="18" height="25" fill="#fff"/>
<rect x="656" y="237" width="13" height="31" fill="#000"/>
<rect x="662" y="238" width="1" height="29" fill="#fff"/>
<rect x="657" y="238" width="11" height="1" fill="#fff"/>
<rect x="657" y="244" width="11" height="1" fill="#fff"/>
<rect x="657" y="250" width="11" height="1" fill="#fff"/>
<rect x="657" y="255" width="11" height="1" fill="#fff"/>
<rect x="657" y="261" width="11" height="1" fill="#fff"/>
<rect x="664" y="263" width="3" height="3" fill="#fff"/>
<rect x="684.0" y="244.0" width="23" height="17" rx="2.6" ry="2.6" fill="#fff" stroke="#000" stroke-width="2" shape-rendering="auto"/>
<text transform="translate(688.4,257) scale(0.78,1)" font-size="14" textLength="16.2" lengthAdjust="spacing" fill="#000" >J4</text>
<polygon points="683.5,257.8 681.55,256.4 679.0,255.3 675.25,254.55 671.2,254.4 670.3,253.5 668.5,253.5 668.5,251.5 670.3,251.5 671.2,250.6 675.25,250.45 679.0,249.7 681.55,248.6 683.5,247.2" fill="#000" shape-rendering="auto"/>
<polygon points="685.8,254.05 679.3,253.55 676.0,253.0 674.8,252.5 676.0,252.0 679.3,251.45 685.8,250.95" fill="#fff" shape-rendering="auto"/>
<rect x="4" y="203" width="278" height="16" fill="#000"/>
<rect x="5" y="204" width="276" height="14" fill="#fff"/>
<rect x="5" y="206" width="7" height="1" fill="#000"/>
<rect x="5" y="212" width="7" height="1" fill="#000"/>
<rect x="12" y="203" width="4" height="14" fill="#000"/>
<rect x="13" y="204" width="1" height="1" fill="#fff"/>
<rect x="13" y="206" width="1" height="10" fill="#fff"/>
<rect x="16" y="205" width="10" height="8" fill="#000"/>
<rect x="17" y="206" width="8" height="5" fill="#fff"/>
<rect x="19" y="212" width="4" height="1" fill="#fff"/>
<rect x="16" y="213" width="3" height="1" fill="#000"/>
<rect x="23" y="213" width="1" height="4" fill="#000"/>
<rect x="12" y="216" width="12" height="1" fill="#000"/>
<rect x="275" y="206" width="7" height="1" fill="#000"/>
<rect x="275" y="212" width="7" height="1" fill="#000"/>
<rect x="271" y="203" width="4" height="14" fill="#000"/>
<rect x="273" y="204" width="1" height="1" fill="#fff"/>
<rect x="261" y="205" width="10" height="8" fill="#000"/>
<rect x="262" y="206" width="8" height="5" fill="#fff"/>
<rect x="264" y="212" width="4" height="1" fill="#fff"/>
<rect x="268" y="213" width="3" height="1" fill="#000"/>
<rect x="263" y="213" width="1" height="4" fill="#000"/>
<rect x="263" y="216" width="12" height="1" fill="#000"/>
<rect x="28" y="205" width="231" height="11" fill="#000"/>
<rect x="31" y="206" width="1" height="5" fill="#fff"/>
<rect x="33" y="206" width="1" height="5" fill="#fff"/>
<rect x="36" y="206" width="1" height="5" fill="#fff"/>
<rect x="39" y="206" width="1" height="5" fill="#fff"/>
<rect x="41" y="206" width="1" height="5" fill="#fff"/>
<rect x="44" y="206" width="1" height="5" fill="#fff"/>
<rect x="47" y="206" width="1" height="5" fill="#fff"/>
<rect x="49" y="206" width="1" height="5" fill="#fff"/>
<rect x="52" y="206" width="1" height="5" fill="#fff"/>
<rect x="55" y="206" width="1" height="5" fill="#fff"/>
<rect x="57" y="206" width="1" height="5" fill="#fff"/>
<rect x="60" y="206" width="1" height="5" fill="#fff"/>
<rect x="63" y="206" width="1" height="5" fill="#fff"/>
<rect x="65" y="206" width="1" height="5" fill="#fff"/>
<rect x="68" y="206" width="1" height="5" fill="#fff"/>
<rect x="71" y="206" width="1" height="5" fill="#fff"/>
<rect x="73" y="206" width="1" height="5" fill="#fff"/>
<rect x="76" y="206" width="1" height="5" fill="#fff"/>
<rect x="79" y="206" width="1" height="5" fill="#fff"/>
<rect x="84" y="206" width="1" height="5" fill="#fff"/>
<rect x="87" y="206" width="1" height="5" fill="#fff"/>
<rect x="89" y="206" width="1" height="5" fill="#fff"/>
<rect x="92" y="206" width="1" height="5" fill="#fff"/>
<rect x="95" y="206" width="1" height="5" fill="#fff"/>
<rect x="97" y="206" width="1" height="5" fill="#fff"/>
<rect x="100" y="206" width="1" height="5" fill="#fff"/>
<rect x="103" y="206" width="1" height="5" fill="#fff"/>
<rect x="105" y="206" width="1" height="5" fill="#fff"/>
<rect x="108" y="206" width="1" height="5" fill="#fff"/>
<rect x="111" y="206" width="1" height="5" fill="#fff"/>
<rect x="113" y="206" width="1" height="5" fill="#fff"/>
<rect x="119" y="206" width="1" height="5" fill="#fff"/>
<rect x="124" y="206" width="1" height="5" fill="#fff"/>
<rect x="127" y="206" width="1" height="5" fill="#fff"/>
<rect x="129" y="206" width="1" height="5" fill="#fff"/>
<rect x="132" y="206" width="1" height="5" fill="#fff"/>
<rect x="135" y="206" width="1" height="5" fill="#fff"/>
<rect x="151" y="206" width="1" height="5" fill="#fff"/>
<rect x="153" y="206" width="1" height="5" fill="#fff"/>
<rect x="156" y="206" width="1" height="5" fill="#fff"/>
<rect x="159" y="206" width="1" height="5" fill="#fff"/>
<rect x="161" y="206" width="1" height="5" fill="#fff"/>
<rect x="164" y="206" width="1" height="5" fill="#fff"/>
<rect x="167" y="206" width="1" height="5" fill="#fff"/>
<rect x="169" y="206" width="1" height="5" fill="#fff"/>
<rect x="172" y="206" width="1" height="5" fill="#fff"/>
<rect x="175" y="206" width="1" height="5" fill="#fff"/>
<rect x="177" y="206" width="1" height="5" fill="#fff"/>
<rect x="180" y="206" width="1" height="5" fill="#fff"/>
<rect x="183" y="206" width="1" height="5" fill="#fff"/>
<rect x="185" y="206" width="1" height="5" fill="#fff"/>
<rect x="188" y="206" width="1" height="5" fill="#fff"/>
<rect x="191" y="206" width="1" height="5" fill="#fff"/>
<rect x="193" y="206" width="1" height="5" fill="#fff"/>
<rect x="196" y="206" width="1" height="5" fill="#fff"/>
<rect x="199" y="206" width="1" height="5" fill="#fff"/>
<rect x="204" y="206" width="1" height="5" fill="#fff"/>
<rect x="207" y="206" width="1" height="5" fill="#fff"/>
<rect x="209" y="206" width="1" height="5" fill="#fff"/>
<rect x="212" y="206" width="1" height="5" fill="#fff"/>
<rect x="215" y="206" width="1" height="5" fill="#fff"/>
<rect x="217" y="206" width="1" height="5" fill="#fff"/>
<rect x="220" y="206" width="1" height="5" fill="#fff"/>
<rect x="223" y="206" width="1" height="5" fill="#fff"/>
<rect x="225" y="206" width="1" height="5" fill="#fff"/>
<rect x="228" y="206" width="1" height="5" fill="#fff"/>
<rect x="231" y="206" width="1" height="5" fill="#fff"/>
<rect x="233" y="206" width="1" height="5" fill="#fff"/>
<rect x="236" y="206" width="1" height="5" fill="#fff"/>
<rect x="239" y="206" width="1" height="5" fill="#fff"/>
<rect x="244" y="206" width="1" height="5" fill="#fff"/>
<rect x="247" y="206" width="1" height="5" fill="#fff"/>
<rect x="249" y="206" width="1" height="5" fill="#fff"/>
<rect x="252" y="206" width="1" height="5" fill="#fff"/>
<rect x="255" y="206" width="1" height="5" fill="#fff"/>
<rect x="139" y="205" width="9" height="5" fill="#fff"/>
<rect x="4" y="221" width="278" height="15" fill="#000"/>
<rect x="5" y="222" width="276" height="13" fill="#fff"/>
<rect x="5" y="224" width="7" height="1" fill="#000"/>
<rect x="5" y="230" width="7" height="1" fill="#000"/>
<rect x="12" y="221" width="4" height="14" fill="#000"/>
<rect x="13" y="222" width="1" height="1" fill="#fff"/>
<rect x="13" y="224" width="1" height="10" fill="#fff"/>
<rect x="16" y="223" width="10" height="8" fill="#000"/>
<rect x="17" y="224" width="8" height="5" fill="#fff"/>
<rect x="19" y="230" width="4" height="1" fill="#fff"/>
<rect x="16" y="231" width="3" height="1" fill="#000"/>
<rect x="23" y="231" width="1" height="4" fill="#000"/>
<rect x="12" y="234" width="12" height="1" fill="#000"/>
<rect x="275" y="224" width="7" height="1" fill="#000"/>
<rect x="275" y="230" width="7" height="1" fill="#000"/>
<rect x="271" y="221" width="4" height="14" fill="#000"/>
<rect x="273" y="222" width="1" height="1" fill="#fff"/>
<rect x="261" y="223" width="10" height="8" fill="#000"/>
<rect x="262" y="224" width="8" height="5" fill="#fff"/>
<rect x="264" y="230" width="4" height="1" fill="#fff"/>
<rect x="268" y="231" width="3" height="1" fill="#000"/>
<rect x="263" y="231" width="1" height="4" fill="#000"/>
<rect x="263" y="234" width="12" height="1" fill="#000"/>
<rect x="28" y="223" width="231" height="11" fill="#000"/>
<rect x="31" y="224" width="1" height="5" fill="#fff"/>
<rect x="33" y="224" width="1" height="5" fill="#fff"/>
<rect x="36" y="224" width="1" height="5" fill="#fff"/>
<rect x="39" y="224" width="1" height="5" fill="#fff"/>
<rect x="41" y="224" width="1" height="5" fill="#fff"/>
<rect x="44" y="224" width="1" height="5" fill="#fff"/>
<rect x="47" y="224" width="1" height="5" fill="#fff"/>
<rect x="49" y="224" width="1" height="5" fill="#fff"/>
<rect x="52" y="224" width="1" height="5" fill="#fff"/>
<rect x="55" y="224" width="1" height="5" fill="#fff"/>
<rect x="57" y="224" width="1" height="5" fill="#fff"/>
<rect x="60" y="224" width="1" height="5" fill="#fff"/>
<rect x="63" y="224" width="1" height="5" fill="#fff"/>
<rect x="65" y="224" width="1" height="5" fill="#fff"/>
<rect x="68" y="224" width="1" height="5" fill="#fff"/>
<rect x="71" y="224" width="1" height="5" fill="#fff"/>
<rect x="73" y="224" width="1" height="5" fill="#fff"/>
<rect x="76" y="224" width="1" height="5" fill="#fff"/>
<rect x="79" y="224" width="1" height="5" fill="#fff"/>
<rect x="84" y="224" width="1" height="5" fill="#fff"/>
<rect x="87" y="224" width="1" height="5" fill="#fff"/>
<rect x="89" y="224" width="1" height="5" fill="#fff"/>
<rect x="92" y="224" width="1" height="5" fill="#fff"/>
<rect x="95" y="224" width="1" height="5" fill="#fff"/>
<rect x="97" y="224" width="1" height="5" fill="#fff"/>
<rect x="100" y="224" width="1" height="5" fill="#fff"/>
<rect x="103" y="224" width="1" height="5" fill="#fff"/>
<rect x="105" y="224" width="1" height="5" fill="#fff"/>
<rect x="108" y="224" width="1" height="5" fill="#fff"/>
<rect x="111" y="224" width="1" height="5" fill="#fff"/>
<rect x="113" y="224" width="1" height="5" fill="#fff"/>
<rect x="119" y="224" width="1" height="5" fill="#fff"/>
<rect x="124" y="224" width="1" height="5" fill="#fff"/>
<rect x="127" y="224" width="1" height="5" fill="#fff"/>
<rect x="129" y="224" width="1" height="5" fill="#fff"/>
<rect x="132" y="224" width="1" height="5" fill="#fff"/>
<rect x="135" y="224" width="1" height="5" fill="#fff"/>
<rect x="151" y="224" width="1" height="5" fill="#fff"/>
<rect x="153" y="224" width="1" height="5" fill="#fff"/>
<rect x="156" y="224" width="1" height="5" fill="#fff"/>
<rect x="159" y="224" width="1" height="5" fill="#fff"/>
<rect x="161" y="224" width="1" height="5" fill="#fff"/>
<rect x="164" y="224" width="1" height="5" fill="#fff"/>
<rect x="167" y="224" width="1" height="5" fill="#fff"/>
<rect x="169" y="224" width="1" height="5" fill="#fff"/>
<rect x="172" y="224" width="1" height="5" fill="#fff"/>
<rect x="175" y="224" width="1" height="5" fill="#fff"/>
<rect x="177" y="224" width="1" height="5" fill="#fff"/>
<rect x="180" y="224" width="1" height="5" fill="#fff"/>
<rect x="183" y="224" width="1" height="5" fill="#fff"/>
<rect x="185" y="224" width="1" height="5" fill="#fff"/>
<rect x="188" y="224" width="1" height="5" fill="#fff"/>
<rect x="191" y="224" width="1" height="5" fill="#fff"/>
<rect x="193" y="224" width="1" height="5" fill="#fff"/>
<rect x="196" y="224" width="1" height="5" fill="#fff"/>
<rect x="199" y="224" width="1" height="5" fill="#fff"/>
<rect x="204" y="224" width="1" height="5" fill="#fff"/>
<rect x="207" y="224" width="1" height="5" fill="#fff"/>
<rect x="209" y="224" width="1" height="5" fill="#fff"/>
<rect x="212" y="224" width="1" height="5" fill="#fff"/>
<rect x="215" y="224" width="1" height="5" fill="#fff"/>
<rect x="217" y="224" width="1" height="5" fill="#fff"/>
<rect x="220" y="224" width="1" height="5" fill="#fff"/>
<rect x="223" y="224" width="1" height="5" fill="#fff"/>
<rect x="225" y="224" width="1" height="5" fill="#fff"/>
<rect x="228" y="224" width="1" height="5" fill="#fff"/>
<rect x="231" y="224" width="1" height="5" fill="#fff"/>
<rect x="233" y="224" width="1" height="5" fill="#fff"/>
<rect x="236" y="224" width="1" height="5" fill="#fff"/>
<rect x="239" y="224" width="1" height="5" fill="#fff"/>
<rect x="244" y="224" width="1" height="5" fill="#fff"/>
<rect x="247" y="224" width="1" height="5" fill="#fff"/>
<rect x="249" y="224" width="1" height="5" fill="#fff"/>
<rect x="252" y="224" width="1" height="5" fill="#fff"/>
<rect x="255" y="224" width="1" height="5" fill="#fff"/>
<rect x="139" y="229" width="9" height="5" fill="#fff"/>
<rect x="4" y="239" width="278" height="15" fill="#000"/>
<rect x="5" y="240" width="276" height="13" fill="#fff"/>
<rect x="5" y="242" width="7" height="1" fill="#000"/>
<rect x="5" y="248" width="7" height="1" fill="#000"/>
<rect x="12" y="239" width="4" height="14" fill="#000"/>
<rect x="13" y="240" width="1" height="1" fill="#fff"/>
<rect x="13" y="242" width="1" height="10" fill="#fff"/>
<rect x="16" y="241" width="10" height="8" fill="#000"/>
<rect x="17" y="242" width="8" height="5" fill="#fff"/>
<rect x="19" y="248" width="4" height="1" fill="#fff"/>
<rect x="16" y="249" width="3" height="1" fill="#000"/>
<rect x="23" y="249" width="1" height="4" fill="#000"/>
<rect x="12" y="252" width="12" height="1" fill="#000"/>
<rect x="275" y="242" width="7" height="1" fill="#000"/>
<rect x="275" y="248" width="7" height="1" fill="#000"/>
<rect x="271" y="239" width="4" height="14" fill="#000"/>
<rect x="273" y="240" width="1" height="1" fill="#fff"/>
<rect x="261" y="241" width="10" height="8" fill="#000"/>
<rect x="262" y="242" width="8" height="5" fill="#fff"/>
<rect x="264" y="248" width="4" height="1" fill="#fff"/>
<rect x="268" y="249" width="3" height="1" fill="#000"/>
<rect x="263" y="249" width="1" height="4" fill="#000"/>
<rect x="263" y="252" width="12" height="1" fill="#000"/>
<rect x="28" y="241" width="231" height="11" fill="#000"/>
<rect x="31" y="242" width="1" height="5" fill="#fff"/>
<rect x="33" y="242" width="1" height="5" fill="#fff"/>
<rect x="36" y="242" width="1" height="5" fill="#fff"/>
<rect x="39" y="242" width="1" height="5" fill="#fff"/>
<rect x="41" y="242" width="1" height="5" fill="#fff"/>
<rect x="44" y="242" width="1" height="5" fill="#fff"/>
<rect x="47" y="242" width="1" height="5" fill="#fff"/>
<rect x="49" y="242" width="1" height="5" fill="#fff"/>
<rect x="52" y="242" width="1" height="5" fill="#fff"/>
<rect x="55" y="242" width="1" height="5" fill="#fff"/>
<rect x="57" y="242" width="1" height="5" fill="#fff"/>
<rect x="60" y="242" width="1" height="5" fill="#fff"/>
<rect x="63" y="242" width="1" height="5" fill="#fff"/>
<rect x="65" y="242" width="1" height="5" fill="#fff"/>
<rect x="68" y="242" width="1" height="5" fill="#fff"/>
<rect x="71" y="242" width="1" height="5" fill="#fff"/>
<rect x="73" y="242" width="1" height="5" fill="#fff"/>
<rect x="76" y="242" width="1" height="5" fill="#fff"/>
<rect x="79" y="242" width="1" height="5" fill="#fff"/>
<rect x="84" y="242" width="1" height="5" fill="#fff"/>
<rect x="87" y="242" width="1" height="5" fill="#fff"/>
<rect x="89" y="242" width="1" height="5" fill="#fff"/>
<rect x="92" y="242" width="1" height="5" fill="#fff"/>
<rect x="95" y="242" width="1" height="5" fill="#fff"/>
<rect x="97" y="242" width="1" height="5" fill="#fff"/>
<rect x="100" y="242" width="1" height="5" fill="#fff"/>
<rect x="103" y="242" width="1" height="5" fill="#fff"/>
<rect x="105" y="242" width="1" height="5" fill="#fff"/>
<rect x="108" y="242" width="1" height="5" fill="#fff"/>
<rect x="111" y="242" width="1" height="5" fill="#fff"/>
<rect x="113" y="242" width="1" height="5" fill="#fff"/>
<rect x="119" y="242" width="1" height="5" fill="#fff"/>
<rect x="124" y="242" width="1" height="5" fill="#fff"/>
<rect x="127" y="242" width="1" height="5" fill="#fff"/>
<rect x="129" y="242" width="1" height="5" fill="#fff"/>
<rect x="132" y="242" width="1" height="5" fill="#fff"/>
<rect x="135" y="242" width="1" height="5" fill="#fff"/>
<rect x="151" y="242" width="1" height="5" fill="#fff"/>
<rect x="153" y="242" width="1" height="5" fill="#fff"/>
<rect x="156" y="242" width="1" height="5" fill="#fff"/>
<rect x="159" y="242" width="1" height="5" fill="#fff"/>
<rect x="161" y="242" width="1" height="5" fill="#fff"/>
<rect x="164" y="242" width="1" height="5" fill="#fff"/>
<rect x="167" y="242" width="1" height="5" fill="#fff"/>
<rect x="169" y="242" width="1" height="5" fill="#fff"/>
<rect x="172" y="242" width="1" height="5" fill="#fff"/>
<rect x="175" y="242" width="1" height="5" fill="#fff"/>
<rect x="177" y="242" width="1" height="5" fill="#fff"/>
<rect x="180" y="242" width="1" height="5" fill="#fff"/>
<rect x="183" y="242" width="1" height="5" fill="#fff"/>
<rect x="185" y="242" width="1" height="5" fill="#fff"/>
<rect x="188" y="242" width="1" height="5" fill="#fff"/>
<rect x="191" y="242" width="1" height="5" fill="#fff"/>
<rect x="193" y="242" width="1" height="5" fill="#fff"/>
<rect x="196" y="242" width="1" height="5" fill="#fff"/>
<rect x="199" y="242" width="1" height="5" fill="#fff"/>
<rect x="204" y="242" width="1" height="5" fill="#fff"/>
<rect x="207" y="242" width="1" height="5" fill="#fff"/>
<rect x="209" y="242" width="1" height="5" fill="#fff"/>
<rect x="212" y="242" width="1" height="5" fill="#fff"/>
<rect x="215" y="242" width="1" height="5" fill="#fff"/>
<rect x="217" y="242" width="1" height="5" fill="#fff"/>
<rect x="220" y="242" width="1" height="5" fill="#fff"/>
<rect x="223" y="242" width="1" height="5" fill="#fff"/>
<rect x="225" y="242" width="1" height="5" fill="#fff"/>
<rect x="228" y="242" width="1" height="5" fill="#fff"/>
<rect x="231" y="242" width="1" height="5" fill="#fff"/>
<rect x="233" y="242" width="1" height="5" fill="#fff"/>
<rect x="236" y="242" width="1" height="5" fill="#fff"/>
<rect x="239" y="242" width="1" height="5" fill="#fff"/>
<rect x="244" y="242" width="1" height="5" fill="#fff"/>
<rect x="247" y="242" width="1" height="5" fill="#fff"/>
<rect x="249" y="242" width="1" height="5" fill="#fff"/>
<rect x="252" y="242" width="1" height="5" fill="#fff"/>
<rect x="255" y="242" width="1" height="5" fill="#fff"/>
<rect x="139" y="241" width="9" height="5" fill="#fff"/>
<rect x="4" y="257" width="278" height="15" fill="#000"/>
<rect x="5" y="258" width="276" height="13" fill="#fff"/>
<rect x="5" y="260" width="7" height="1" fill="#000"/>
<rect x="5" y="266" width="7" height="1" fill="#000"/>
<rect x="12" y="257" width="4" height="14" fill="#000"/>
<rect x="13" y="258" width="1" height="1" fill="#fff"/>
<rect x="13" y="260" width="1" height="10" fill="#fff"/>
<rect x="16" y="259" width="10" height="8" fill="#000"/>
<rect x="17" y="260" width="8" height="5" fill="#fff"/>
<rect x="19" y="266" width="4" height="1" fill="#fff"/>
<rect x="16" y="267" width="3" height="1" fill="#000"/>
<rect x="23" y="267" width="1" height="4" fill="#000"/>
<rect x="12" y="270" width="12" height="1" fill="#000"/>
<rect x="275" y="260" width="7" height="1" fill="#000"/>
<rect x="275" y="266" width="7" height="1" fill="#000"/>
<rect x="271" y="257" width="4" height="14" fill="#000"/>
<rect x="273" y="258" width="1" height="1" fill="#fff"/>
<rect x="261" y="259" width="10" height="8" fill="#000"/>
<rect x="262" y="260" width="8" height="5" fill="#fff"/>
<rect x="264" y="266" width="4" height="1" fill="#fff"/>
<rect x="268" y="267" width="3" height="1" fill="#000"/>
<rect x="263" y="267" width="1" height="4" fill="#000"/>
<rect x="263" y="270" width="12" height="1" fill="#000"/>
<rect x="28" y="259" width="231" height="11" fill="#000"/>
<rect x="31" y="260" width="1" height="5" fill="#fff"/>
<rect x="33" y="260" width="1" height="5" fill="#fff"/>
<rect x="36" y="260" width="1" height="5" fill="#fff"/>
<rect x="39" y="260" width="1" height="5" fill="#fff"/>
<rect x="41" y="260" width="1" height="5" fill="#fff"/>
<rect x="44" y="260" width="1" height="5" fill="#fff"/>
<rect x="47" y="260" width="1" height="5" fill="#fff"/>
<rect x="49" y="260" width="1" height="5" fill="#fff"/>
<rect x="52" y="260" width="1" height="5" fill="#fff"/>
<rect x="55" y="260" width="1" height="5" fill="#fff"/>
<rect x="57" y="260" width="1" height="5" fill="#fff"/>
<rect x="60" y="260" width="1" height="5" fill="#fff"/>
<rect x="63" y="260" width="1" height="5" fill="#fff"/>
<rect x="65" y="260" width="1" height="5" fill="#fff"/>
<rect x="68" y="260" width="1" height="5" fill="#fff"/>
<rect x="71" y="260" width="1" height="5" fill="#fff"/>
<rect x="73" y="260" width="1" height="5" fill="#fff"/>
<rect x="76" y="260" width="1" height="5" fill="#fff"/>
<rect x="79" y="260" width="1" height="5" fill="#fff"/>
<rect x="84" y="260" width="1" height="5" fill="#fff"/>
<rect x="87" y="260" width="1" height="5" fill="#fff"/>
<rect x="89" y="260" width="1" height="5" fill="#fff"/>
<rect x="92" y="260" width="1" height="5" fill="#fff"/>
<rect x="95" y="260" width="1" height="5" fill="#fff"/>
<rect x="97" y="260" width="1" height="5" fill="#fff"/>
<rect x="100" y="260" width="1" height="5" fill="#fff"/>
<rect x="103" y="260" width="1" height="5" fill="#fff"/>
<rect x="105" y="260" width="1" height="5" fill="#fff"/>
<rect x="108" y="260" width="1" height="5" fill="#fff"/>
<rect x="111" y="260" width="1" height="5" fill="#fff"/>
<rect x="113" y="260" width="1" height="5" fill="#fff"/>
<rect x="119" y="260" width="1" height="5" fill="#fff"/>
<rect x="124" y="260" width="1" height="5" fill="#fff"/>
<rect x="127" y="260" width="1" height="5" fill="#fff"/>
<rect x="129" y="260" width="1" height="5" fill="#fff"/>
<rect x="132" y="260" width="1" height="5" fill="#fff"/>
<rect x="135" y="260" width="1" height="5" fill="#fff"/>
<rect x="151" y="260" width="1" height="5" fill="#fff"/>
<rect x="153" y="260" width="1" height="5" fill="#fff"/>
<rect x="156" y="260" width="1" height="5" fill="#fff"/>
<rect x="159" y="260" width="1" height="5" fill="#fff"/>
<rect x="161" y="260" width="1" height="5" fill="#fff"/>
<rect x="164" y="260" width="1" height="5" fill="#fff"/>
<rect x="167" y="260" width="1" height="5" fill="#fff"/>
<rect x="169" y="260" width="1" height="5" fill="#fff"/>
<rect x="172" y="260" width="1" height="5" fill="#fff"/>
<rect x="175" y="260" width="1" height="5" fill="#fff"/>
<rect x="177" y="260" width="1" height="5" fill="#fff"/>
<rect x="180" y="260" width="1" height="5" fill="#fff"/>
<rect x="183" y="260" width="1" height="5" fill="#fff"/>
<rect x="185" y="260" width="1" height="5" fill="#fff"/>
<rect x="188" y="260" width="1" height="5" fill="#fff"/>
<rect x="191" y="260" width="1" height="5" fill="#fff"/>
<rect x="193" y="260" width="1" height="5" fill="#fff"/>
<rect x="196" y="260" width="1" height="5" fill="#fff"/>
<rect x="199" y="260" width="1" height="5" fill="#fff"/>
<rect x="204" y="260" width="1" height="5" fill="#fff"/>
<rect x="207" y="260" width="1" height="5" fill="#fff"/>
<rect x="209" y="260" width="1" height="5" fill="#fff"/>
<rect x="212" y="260" width="1" height="5" fill="#fff"/>
<rect x="215" y="260" width="1" height="5" fill="#fff"/>
<rect x="217" y="260" width="1" height="5" fill="#fff"/>
<rect x="220" y="260" width="1" height="5" fill="#fff"/>
<rect x="223" y="260" width="1" height="5" fill="#fff"/>
<rect x="225" y="260" width="1" height="5" fill="#fff"/>
<rect x="228" y="260" width="1" height="5" fill="#fff"/>
<rect x="231" y="260" width="1" height="5" fill="#fff"/>
<rect x="233" y="260" width="1" height="5" fill="#fff"/>
<rect x="236" y="260" width="1" height="5" fill="#fff"/>
<rect x="239" y="260" width="1" height="5" fill="#fff"/>
<rect x="244" y="260" width="1" height="5" fill="#fff"/>
<rect x="247" y="260" width="1" height="5" fill="#fff"/>
<rect x="249" y="260" width="1" height="5" fill="#fff"/>
<rect x="252" y="260" width="1" height="5" fill="#fff"/>
<rect x="255" y="260" width="1" height="5" fill="#fff"/>
<rect x="139" y="265" width="9" height="5" fill="#fff"/>
<rect x="115" y="212" width="56" height="17" fill="#000"/>
<rect x="116" y="213" width="54" height="14" fill="#fff"/>
<text transform="translate(120.4,224) scale(0.78,1)" font-size="14" textLength="52.1" lengthAdjust="spacing" fill="#000" >BANK 1</text>
<rect x="115" y="247" width="57" height="16" fill="#000"/>
<rect x="116" y="248" width="55" height="14" fill="#fff"/>
<text transform="translate(119.4,260) scale(0.78,1)" font-size="14" textLength="61.0" lengthAdjust="spacing" fill="#000" >BANK 0</text>
<circle cx="20.5" cy="295.5" r="14.3" fill="#000" shape-rendering="auto"/><circle cx="20" cy="295" r="3" fill="#fff" shape-rendering="auto"/>
<rect x="36" y="277" width="61" height="61" fill="#000"/>
<rect x="44" y="279" width="46" height="5" fill="#fff"/>
<rect x="44" y="330" width="46" height="6" fill="#fff"/>
<rect x="39" y="284" width="5" height="46" fill="#fff"/>
<rect x="91" y="284" width="4" height="46" fill="#fff"/>
<rect x="50" y="279" width="1" height="5" fill="#000"/>
<rect x="51" y="279" width="1" height="5" fill="#000"/>
<rect x="69" y="279" width="1" height="5" fill="#000"/>
<rect x="55" y="330" width="1" height="6" fill="#000"/>
<rect x="73" y="330" width="1" height="6" fill="#000"/>
<rect x="84" y="330" width="1" height="6" fill="#000"/>
<rect x="39" y="286" width="5" height="1" fill="#000"/>
<rect x="91" y="286" width="4" height="1" fill="#000"/>
<rect x="39" y="307" width="5" height="1" fill="#000"/>
<rect x="91" y="307" width="4" height="1" fill="#000"/>
<rect x="39" y="327" width="5" height="1" fill="#000"/>
<rect x="91" y="327" width="4" height="1" fill="#000"/>
<rect x="44" y="284" width="46" height="46" fill="#000"/>
<rect x="90" y="284" width="1" height="46" fill="#000"/>
<rect x="44" y="284" width="1" height="2" fill="#fff"/>
<rect x="45" y="284" width="1" height="1" fill="#fff"/>
<rect x="89" y="284" width="1" height="2" fill="#fff"/>
<rect x="88" y="284" width="1" height="1" fill="#fff"/>
<rect x="44" y="328" width="1" height="2" fill="#fff"/>
<rect x="45" y="329" width="1" height="1" fill="#fff"/>
<rect x="89" y="328" width="1" height="2" fill="#fff"/>
<rect x="88" y="329" width="1" height="1" fill="#fff"/>
<rect x="48" y="300" width="38" height="15" rx="3" fill="#fff" shape-rendering="auto"/>
<circle cx="87" cy="307.5" r="2.6" fill="#fff" stroke="#000" stroke-width="1" shape-rendering="auto"/>
<text transform="translate(51.4,312) scale(0.78,1)" font-size="14" textLength="37.9" lengthAdjust="spacing" fill="#000" >BIOS</text>
<rect x="107" y="284" width="88" height="41" fill="#000"/>
<rect x="109" y="286" width="3" height="5" fill="#fff"/>
<rect x="109" y="318" width="3" height="5" fill="#fff"/>
<rect x="115" y="286" width="4" height="5" fill="#fff"/>
<rect x="115" y="318" width="4" height="5" fill="#fff"/>
<rect x="121" y="286" width="4" height="5" fill="#fff"/>
<rect x="121" y="318" width="4" height="5" fill="#fff"/>
<rect x="128" y="286" width="3" height="5" fill="#fff"/>
<rect x="128" y="318" width="3" height="5" fill="#fff"/>
<rect x="134" y="286" width="3" height="5" fill="#fff"/>
<rect x="134" y="318" width="3" height="5" fill="#fff"/>
<rect x="140" y="286" width="4" height="5" fill="#fff"/>
<rect x="140" y="318" width="4" height="5" fill="#fff"/>
<rect x="146" y="286" width="4" height="5" fill="#fff"/>
<rect x="146" y="318" width="4" height="5" fill="#fff"/>
<rect x="153" y="286" width="3" height="5" fill="#fff"/>
<rect x="153" y="318" width="3" height="5" fill="#fff"/>
<rect x="159" y="286" width="3" height="5" fill="#fff"/>
<rect x="159" y="318" width="3" height="5" fill="#fff"/>
<rect x="165" y="286" width="3" height="5" fill="#fff"/>
<rect x="165" y="318" width="3" height="5" fill="#fff"/>
<rect x="171" y="286" width="3" height="5" fill="#fff"/>
<rect x="171" y="318" width="3" height="5" fill="#fff"/>
<rect x="178" y="286" width="4" height="5" fill="#fff"/>
<rect x="178" y="318" width="4" height="5" fill="#fff"/>
<rect x="184" y="286" width="4" height="5" fill="#fff"/>
<rect x="184" y="318" width="4" height="5" fill="#fff"/>
<rect x="190" y="286" width="3" height="5" fill="#fff"/>
<rect x="190" y="318" width="3" height="5" fill="#fff"/>
<rect x="112" y="294" width="36" height="2" fill="#fff"/>
<rect x="153" y="294" width="36" height="2" fill="#fff"/>
<rect x="112" y="314" width="36" height="2" fill="#fff"/>
<rect x="153" y="314" width="36" height="2" fill="#fff"/>
<rect x="112" y="294" width="1" height="3" fill="#fff"/>
<rect x="112" y="312" width="1" height="4" fill="#fff"/>
<rect x="114" y="298" width="75" height="14" fill="#fff"/>
<rect x="193" y="301" width="2" height="7" fill="#fff"/>
<text transform="translate(115.4,310) scale(0.78,1)" font-size="14" textLength="91.8" lengthAdjust="spacing" fill="#000" >BOOT ROM</text>
<rect x="201" y="307" width="49" height="50" fill="#000"/>
<rect x="201" y="307" width="1" height="1" fill="#fff"/>
<rect x="202" y="307" width="1" height="1" fill="#fff"/>
<rect x="201" y="308" width="1" height="1" fill="#fff"/>
<rect x="201" y="309" width="1" height="1" fill="#fff"/>
<rect x="201" y="310" width="1" height="1" fill="#fff"/>
<rect x="201" y="311" width="1" height="1" fill="#fff"/>
<rect x="249" y="307" width="1" height="1" fill="#fff"/>
<rect x="248" y="307" width="1" height="1" fill="#fff"/>
<rect x="247" y="307" width="1" height="1" fill="#fff"/>
<rect x="249" y="308" width="1" height="1" fill="#fff"/>
<rect x="249" y="309" width="1" height="1" fill="#fff"/>
<rect x="248" y="308" width="1" height="1" fill="#fff"/>
<rect x="201" y="356" width="1" height="1" fill="#fff"/>
<rect x="202" y="356" width="1" height="1" fill="#fff"/>
<rect x="203" y="356" width="1" height="1" fill="#fff"/>
<rect x="204" y="356" width="1" height="1" fill="#fff"/>
<rect x="201" y="355" width="1" height="1" fill="#fff"/>
<rect x="201" y="354" width="1" height="1" fill="#fff"/>
<rect x="202" y="355" width="1" height="1" fill="#fff"/>
<rect x="249" y="356" width="1" height="1" fill="#fff"/>
<rect x="248" y="356" width="1" height="1" fill="#fff"/>
<rect x="249" y="355" width="1" height="1" fill="#fff"/>
<rect x="249" y="354" width="1" height="1" fill="#fff"/>
<rect x="249" y="353" width="1" height="1" fill="#fff"/>
<rect x="211" y="325" width="29" height="14" fill="#fff"/>
<rect x="242" y="330" width="3" height="3" fill="#fff"/>
<rect x="242" y="333" width="2" height="1" fill="#fff"/>
<text transform="translate(212.4,337) scale(0.78,1)" font-size="14" textLength="34.1" lengthAdjust="spacing" fill="#000" >KBD</text>
<rect x="284" y="277" width="47" height="20" fill="#000"/>
<rect x="285" y="278" width="45" height="18" fill="#fff"/>
<rect x="291" y="283" width="33" height="8" fill="#000"/>
<rect x="292" y="284" width="31" height="6" fill="#fff"/>
<rect x="333" y="277" width="240" height="20" fill="#000"/>
<rect x="334" y="278" width="238" height="18" fill="#fff"/>
<rect x="340" y="283" width="226" height="8" fill="#000"/>
<rect x="341" y="284" width="224" height="6" fill="#fff"/>
<rect x="575" y="277" width="173" height="20" fill="#000"/>
<rect x="576" y="278" width="171" height="18" fill="#fff"/>
<rect x="582" y="283" width="159" height="8" fill="#000"/>
<rect x="583" y="284" width="157" height="6" fill="#fff"/>
<rect x="500.0" y="279.0" width="32" height="16" rx="2.6" ry="2.6" fill="#fff" stroke="#000" stroke-width="2" shape-rendering="auto"/>
<text transform="translate(504.4,291) scale(0.78,1)" font-size="14" textLength="30.3" lengthAdjust="spacing" fill="#000" >SL1</text>
<rect x="610" y="310" width="79" height="11" fill="#000"/>
<rect x="611" y="312" width="77" height="2" fill="#fff"/>
<rect x="611" y="318" width="77" height="1" fill="#fff"/>
<rect x="611" y="314" width="8" height="4" fill="#fff"/>
<rect x="680" y="314" width="8" height="4" fill="#fff"/>
<rect x="620" y="314" width="1" height="1" fill="#fff"/>
<rect x="622" y="314" width="1" height="1" fill="#fff"/>
<rect x="624" y="314" width="1" height="1" fill="#fff"/>
<rect x="626" y="314" width="1" height="1" fill="#fff"/>
<rect x="628" y="314" width="1" height="1" fill="#fff"/>
<rect x="630" y="314" width="1" height="1" fill="#fff"/>
<rect x="632" y="314" width="1" height="1" fill="#fff"/>
<rect x="634" y="314" width="1" height="1" fill="#fff"/>
<rect x="636" y="314" width="1" height="1" fill="#fff"/>
<rect x="638" y="314" width="1" height="1" fill="#fff"/>
<rect x="640" y="314" width="1" height="1" fill="#fff"/>
<rect x="642" y="314" width="1" height="1" fill="#fff"/>
<rect x="644" y="314" width="1" height="1" fill="#fff"/>
<rect x="646" y="314" width="1" height="1" fill="#fff"/>
<rect x="648" y="314" width="1" height="1" fill="#fff"/>
<rect x="650" y="314" width="1" height="1" fill="#fff"/>
<rect x="652" y="314" width="1" height="1" fill="#fff"/>
<rect x="654" y="314" width="1" height="1" fill="#fff"/>
<rect x="656" y="314" width="1" height="1" fill="#fff"/>
<rect x="658" y="314" width="1" height="1" fill="#fff"/>
<rect x="660" y="314" width="1" height="1" fill="#fff"/>
<rect x="662" y="314" width="1" height="1" fill="#fff"/>
<rect x="664" y="314" width="1" height="1" fill="#fff"/>
<rect x="666" y="314" width="1" height="1" fill="#fff"/>
<rect x="668" y="314" width="1" height="1" fill="#fff"/>
<rect x="670" y="314" width="1" height="1" fill="#fff"/>
<rect x="672" y="314" width="1" height="1" fill="#fff"/>
<rect x="674" y="314" width="1" height="1" fill="#fff"/>
<rect x="676" y="314" width="1" height="1" fill="#fff"/>
<rect x="678" y="314" width="1" height="1" fill="#fff"/>
<rect x="620" y="316" width="2" height="1" fill="#fff"/>
<rect x="623" y="316" width="2" height="1" fill="#fff"/>
<rect x="626" y="316" width="2" height="1" fill="#fff"/>
<rect x="629" y="316" width="2" height="1" fill="#fff"/>
<rect x="632" y="316" width="2" height="1" fill="#fff"/>
<rect x="635" y="316" width="2" height="1" fill="#fff"/>
<rect x="638" y="316" width="2" height="1" fill="#fff"/>
<rect x="641" y="316" width="2" height="1" fill="#fff"/>
<rect x="644" y="316" width="2" height="1" fill="#fff"/>
<rect x="647" y="316" width="2" height="1" fill="#fff"/>
<rect x="650" y="316" width="2" height="1" fill="#fff"/>
<rect x="653" y="316" width="2" height="1" fill="#fff"/>
<rect x="656" y="316" width="2" height="1" fill="#fff"/>
<rect x="659" y="316" width="2" height="1" fill="#fff"/>
<rect x="662" y="316" width="2" height="1" fill="#fff"/>
<rect x="665" y="316" width="2" height="1" fill="#fff"/>
<rect x="668" y="316" width="2" height="1" fill="#fff"/>
<rect x="671" y="316" width="2" height="1" fill="#fff"/>
<rect x="674" y="316" width="2" height="1" fill="#fff"/>
<rect x="677" y="316" width="2" height="1" fill="#fff"/>
<rect x="612" y="312" width="1" height="1" fill="#000"/>
<rect x="613" y="313" width="1" height="1" fill="#000"/>
<rect x="614" y="314" width="1" height="1" fill="#000"/>
<rect x="616" y="312" width="1" height="1" fill="#000"/>
<rect x="615" y="313" width="1" height="1" fill="#000"/>
<rect x="614" y="315" width="1" height="1" fill="#000"/>
<rect x="614" y="316" width="1" height="1" fill="#000"/>
<rect x="613" y="317" width="1" height="1" fill="#000"/>
<rect x="612" y="317" width="1" height="1" fill="#000"/>
<rect x="616" y="315" width="1" height="1" fill="#000"/>
<rect x="616" y="316" width="1" height="1" fill="#000"/>
<rect x="616" y="317" width="1" height="1" fill="#000"/>
<rect x="686" y="312" width="1" height="1" fill="#000"/>
<rect x="685" y="313" width="1" height="1" fill="#000"/>
<rect x="684" y="314" width="1" height="1" fill="#000"/>
<rect x="682" y="312" width="1" height="1" fill="#000"/>
<rect x="683" y="313" width="1" height="1" fill="#000"/>
<rect x="684" y="315" width="1" height="1" fill="#000"/>
<rect x="684" y="316" width="1" height="1" fill="#000"/>
<rect x="685" y="317" width="1" height="1" fill="#000"/>
<rect x="686" y="317" width="1" height="1" fill="#000"/>
<rect x="682" y="315" width="1" height="1" fill="#000"/>
<rect x="682" y="316" width="1" height="1" fill="#000"/>
<rect x="682" y="317" width="1" height="1" fill="#000"/>
<rect x="613.0" y="328.0" width="33" height="17" rx="2.6" ry="2.6" fill="#fff" stroke="#000" stroke-width="2" shape-rendering="auto"/>
<text transform="translate(617.4,341) scale(0.78,1)" font-size="14" textLength="26.4" lengthAdjust="spacing" fill="#000" >J13</text>
<rect x="614" y="344" width="31" height="3" fill="#000"/>
<path d="M643 328.5 L651 320.5 M646 331.5 L654.5 320.5" fill="none" stroke="#000" stroke-width="1.7" shape-rendering="auto"/>
<polygon points="645,327.2 650.8,321.5 652.2,321.5 646.6,328.8" fill="#fff" shape-rendering="auto"/>
<circle cx="47.5" cy="387.5" r="23" fill="#fff" stroke="#000" stroke-width="1" shape-rendering="auto"/>
<rect x="70" y="379" width="16" height="16" fill="#000"/>
<path d="M85.5 383.5 H36 Q32.5 384 32.5 386.5 Q32.5 389 36 389.5 H85.5 Z" fill="#fff" stroke="#000" stroke-width="1" shape-rendering="auto"/>
<rect x="43" y="384" width="1" height="6" fill="#000"/>
<rect x="78.0" y="421.0" width="24" height="16" rx="2.6" ry="2.6" fill="#fff" stroke="#000" stroke-width="2" shape-rendering="auto"/>
<text transform="translate(82.4,433) scale(0.78,1)" font-size="14" textLength="16.2" lengthAdjust="spacing" fill="#000" >J7</text>
<polygon points="92.6,437.5 92.5,439.1 91.6,441.98 91.4,449.98 90.5,450.94 90.5,453.5 88.5,453.5 88.5,450.94 87.6,449.98 87.4,441.98 86.5,439.1 86.4,437.5" fill="#000" shape-rendering="auto"/>
<polygon points="90.6,435.2 90.5,439.1 90.0,442.3 89.5,443.9 89.0,442.3 88.5,439.1 88.4,435.2" fill="#fff" shape-rendering="auto"/>
<rect x="76" y="453" width="27" height="10" fill="#000"/>
<rect x="77" y="454" width="25" height="8" fill="#fff"/>
<rect x="79" y="456" width="4" height="5" fill="#000"/>
<rect x="85" y="456" width="4" height="5" fill="#000"/>
<rect x="91" y="456" width="4" height="5" fill="#000"/>
<rect x="96" y="456" width="5" height="5" fill="#000"/>
<rect x="350" y="334" width="12" height="118" fill="#000"/>
<rect x="356" y="335" width="1" height="116" fill="#fff"/>
<rect x="351" y="335" width="10" height="1" fill="#fff"/>
<rect x="351" y="340" width="10" height="1" fill="#fff"/>
<rect x="351" y="346" width="10" height="1" fill="#fff"/>
<rect x="351" y="352" width="10" height="1" fill="#fff"/>
<rect x="351" y="364" width="10" height="1" fill="#fff"/>
<rect x="351" y="368" width="10" height="2" fill="#fff"/>
<rect x="351" y="374" width="10" height="2" fill="#fff"/>
<rect x="351" y="380" width="10" height="2" fill="#fff"/>
<rect x="351" y="386" width="10" height="1" fill="#fff"/>
<rect x="351" y="392" width="10" height="1" fill="#fff"/>
<rect x="351" y="398" width="10" height="1" fill="#fff"/>
<rect x="351" y="403" width="10" height="2" fill="#fff"/>
<rect x="351" y="409" width="10" height="2" fill="#fff"/>
<rect x="351" y="415" width="10" height="1" fill="#fff"/>
<rect x="351" y="421" width="10" height="1" fill="#fff"/>
<rect x="351" y="426" width="10" height="2" fill="#fff"/>
<rect x="351" y="432" width="10" height="2" fill="#fff"/>
<rect x="351" y="438" width="10" height="1" fill="#fff"/>
<rect x="351" y="444" width="10" height="2" fill="#fff"/>
<rect x="358" y="446" width="2" height="3" fill="#fff"/>
<rect x="376" y="351" width="12" height="101" fill="#000"/>
<rect x="382" y="352" width="1" height="99" fill="#fff"/>
<rect x="377" y="352" width="10" height="1" fill="#fff"/>
<rect x="377" y="358" width="10" height="1" fill="#fff"/>
<rect x="377" y="364" width="10" height="1" fill="#fff"/>
<rect x="377" y="368" width="10" height="2" fill="#fff"/>
<rect x="377" y="374" width="10" height="2" fill="#fff"/>
<rect x="377" y="380" width="10" height="2" fill="#fff"/>
<rect x="377" y="386" width="10" height="1" fill="#fff"/>
<rect x="377" y="392" width="10" height="1" fill="#fff"/>
<rect x="377" y="398" width="10" height="1" fill="#fff"/>
<rect x="377" y="403" width="10" height="2" fill="#fff"/>
<rect x="377" y="409" width="10" height="2" fill="#fff"/>
<rect x="377" y="415" width="10" height="1" fill="#fff"/>
<rect x="377" y="421" width="10" height="1" fill="#fff"/>
<rect x="377" y="426" width="10" height="2" fill="#fff"/>
<rect x="377" y="432" width="10" height="2" fill="#fff"/>
<rect x="377" y="438" width="10" height="1" fill="#fff"/>
<rect x="377" y="444" width="10" height="2" fill="#fff"/>
<rect x="384" y="446" width="2" height="3" fill="#fff"/>
<rect x="400" y="334" width="12" height="118" fill="#000"/>
<rect x="406" y="335" width="1" height="116" fill="#fff"/>
<rect x="401" y="335" width="10" height="1" fill="#fff"/>
<rect x="401" y="340" width="10" height="1" fill="#fff"/>
<rect x="401" y="346" width="10" height="1" fill="#fff"/>
<rect x="401" y="352" width="10" height="1" fill="#fff"/>
<rect x="401" y="364" width="10" height="1" fill="#fff"/>
<rect x="401" y="368" width="10" height="2" fill="#fff"/>
<rect x="401" y="374" width="10" height="2" fill="#fff"/>
<rect x="401" y="380" width="10" height="2" fill="#fff"/>
<rect x="401" y="386" width="10" height="1" fill="#fff"/>
<rect x="401" y="392" width="10" height="1" fill="#fff"/>
<rect x="401" y="398" width="10" height="1" fill="#fff"/>
<rect x="401" y="403" width="10" height="2" fill="#fff"/>
<rect x="401" y="409" width="10" height="2" fill="#fff"/>
<rect x="401" y="415" width="10" height="1" fill="#fff"/>
<rect x="401" y="421" width="10" height="1" fill="#fff"/>
<rect x="401" y="426" width="10" height="2" fill="#fff"/>
<rect x="401" y="432" width="10" height="2" fill="#fff"/>
<rect x="401" y="438" width="10" height="1" fill="#fff"/>
<rect x="401" y="444" width="10" height="2" fill="#fff"/>
<rect x="408" y="446" width="2" height="3" fill="#fff"/>
<rect x="302.0" y="386.0" width="34" height="17" rx="2.6" ry="2.6" fill="#fff" stroke="#000" stroke-width="2" shape-rendering="auto"/>
<text transform="translate(307.4,399) scale(0.78,1)" font-size="14" textLength="25.1" lengthAdjust="spacing" fill="#000" >J12</text>
<polygon points="336.5,389.2 338.32,390.6 340.7,391.7 344.2,392.45 347.98,392.6 348.82,393.5 350.5,393.5 350.5,395.5 348.82,395.5 347.98,396.4 344.2,396.55 340.7,397.3 338.32,398.4 336.5,399.8" fill="#000" shape-rendering="auto"/>
<polygon points="334.2,392.95 340.42,393.45 343.5,394.0 344.62,394.5 343.5,395.0 340.42,395.55 334.2,396.05" fill="#fff" shape-rendering="auto"/>
<rect x="367.0" y="319.0" width="31" height="17" rx="2.6" ry="2.6" fill="#fff" stroke="#000" stroke-width="2" shape-rendering="auto"/>
<text transform="translate(370.4,331) scale(0.78,1)" font-size="14" textLength="26.4" lengthAdjust="spacing" fill="#000" >J10</text>
<polygon points="384.6,336.5 384.5,338.0 383.6,340.7 383.4,348.2 382.5,349.1 382.5,351.5 380.5,351.5 380.5,349.1 379.6,348.2 379.4,340.7 378.5,338.0 378.4,336.5" fill="#000" shape-rendering="auto"/>
<polygon points="382.6,334.2 382.5,338.0 382.0,341.0 381.5,342.5 381.0,341.0 380.5,338.0 380.4,334.2" fill="#fff" shape-rendering="auto"/>
<path d="M411.5 348 L419.5 339 M412 351.5 L422 342.5" fill="none" stroke="#000" stroke-width="1.5" shape-rendering="auto"/>
<rect x="418.0" y="325.0" width="33" height="17" rx="2.6" ry="2.6" fill="#fff" stroke="#000" stroke-width="2" shape-rendering="auto"/>
<text transform="translate(423.4,338) scale(0.78,1)" font-size="14" textLength="26.4" lengthAdjust="spacing" fill="#000" >J11</text>
<rect x="431" y="356" width="56" height="24" fill="#000"/>
<rect x="432" y="357" width="54" height="22" fill="#fff"/>
<rect x="433" y="360" width="7" height="2" fill="#000"/>
<rect x="435" y="359" width="3" height="5" fill="#000"/>
<rect x="441" y="360" width="7" height="2" fill="#000"/>
<rect x="443" y="359" width="3" height="5" fill="#000"/>
<rect x="450" y="360" width="8" height="2" fill="#000"/>
<rect x="452" y="359" width="3" height="5" fill="#000"/>
<rect x="460" y="360" width="7" height="2" fill="#000"/>
<rect x="462" y="359" width="3" height="5" fill="#000"/>
<rect x="469" y="360" width="7" height="2" fill="#000"/>
<rect x="471" y="359" width="3" height="5" fill="#000"/>
<rect x="478" y="360" width="7" height="2" fill="#000"/>
<rect x="480" y="359" width="3" height="5" fill="#000"/>
<rect x="432" y="363" width="54" height="1" fill="#000"/>
<rect x="433" y="366" width="7" height="3" fill="#000"/>
<rect x="441" y="366" width="7" height="3" fill="#000"/>
<rect x="450" y="366" width="8" height="3" fill="#000"/>
<rect x="460" y="366" width="7" height="3" fill="#000"/>
<rect x="469" y="366" width="7" height="3" fill="#000"/>
<rect x="478" y="366" width="7" height="3" fill="#000"/>
<rect x="437" y="370" width="7" height="7" fill="#000"/>
<rect x="438" y="371" width="5" height="5" fill="#fff"/>
<rect x="446" y="370" width="7" height="7" fill="#000"/>
<rect x="447" y="371" width="5" height="5" fill="#fff"/>
<rect x="455" y="370" width="7" height="7" fill="#000"/>
<rect x="456" y="371" width="5" height="5" fill="#fff"/>
<rect x="464" y="370" width="8" height="7" fill="#000"/>
<rect x="465" y="371" width="6" height="5" fill="#fff"/>
<rect x="474" y="370" width="8" height="7" fill="#000"/>
<rect x="475" y="371" width="6" height="5" fill="#fff"/>
<rect x="432" y="370" width="3" height="1" fill="#000"/>
<rect x="434" y="370" width="1" height="7" fill="#000"/>
<rect x="432" y="376" width="3" height="1" fill="#000"/>
<rect x="431" y="372" width="1" height="3" fill="#fff"/>
<rect x="432" y="372" width="1" height="3" fill="#000"/>
<rect x="483" y="370" width="3" height="1" fill="#000"/>
<rect x="483" y="370" width="1" height="7" fill="#000"/>
<rect x="483" y="376" width="3" height="1" fill="#000"/>
<rect x="486" y="372" width="1" height="3" fill="#fff"/>
<rect x="485" y="372" width="1" height="3" fill="#000"/>
<rect x="431" y="392" width="56" height="24" fill="#000"/>
<rect x="432" y="393" width="54" height="22" fill="#fff"/>
<rect x="433" y="396" width="7" height="2" fill="#000"/>
<rect x="435" y="395" width="3" height="5" fill="#000"/>
<rect x="441" y="396" width="7" height="2" fill="#000"/>
<rect x="443" y="395" width="3" height="5" fill="#000"/>
<rect x="450" y="396" width="8" height="2" fill="#000"/>
<rect x="452" y="395" width="3" height="5" fill="#000"/>
<rect x="460" y="396" width="7" height="2" fill="#000"/>
<rect x="462" y="395" width="3" height="5" fill="#000"/>
<rect x="469" y="396" width="7" height="2" fill="#000"/>
<rect x="471" y="395" width="3" height="5" fill="#000"/>
<rect x="478" y="396" width="7" height="2" fill="#000"/>
<rect x="480" y="395" width="3" height="5" fill="#000"/>
<rect x="432" y="399" width="54" height="1" fill="#000"/>
<rect x="433" y="402" width="7" height="3" fill="#000"/>
<rect x="441" y="402" width="7" height="3" fill="#000"/>
<rect x="450" y="402" width="8" height="3" fill="#000"/>
<rect x="460" y="402" width="7" height="3" fill="#000"/>
<rect x="469" y="402" width="7" height="3" fill="#000"/>
<rect x="478" y="402" width="7" height="3" fill="#000"/>
<rect x="437" y="406" width="7" height="7" fill="#000"/>
<rect x="438" y="407" width="5" height="5" fill="#fff"/>
<rect x="446" y="406" width="7" height="7" fill="#000"/>
<rect x="447" y="407" width="5" height="5" fill="#fff"/>
<rect x="455" y="406" width="7" height="7" fill="#000"/>
<rect x="456" y="407" width="5" height="5" fill="#fff"/>
<rect x="464" y="406" width="8" height="7" fill="#000"/>
<rect x="465" y="407" width="6" height="5" fill="#fff"/>
<rect x="474" y="406" width="8" height="7" fill="#000"/>
<rect x="475" y="407" width="6" height="5" fill="#fff"/>
<rect x="432" y="406" width="3" height="1" fill="#000"/>
<rect x="434" y="406" width="1" height="7" fill="#000"/>
<rect x="432" y="412" width="3" height="1" fill="#000"/>
<rect x="431" y="408" width="1" height="3" fill="#fff"/>
<rect x="432" y="408" width="1" height="3" fill="#000"/>
<rect x="483" y="406" width="3" height="1" fill="#000"/>
<rect x="483" y="406" width="1" height="7" fill="#000"/>
<rect x="483" y="412" width="3" height="1" fill="#000"/>
<rect x="486" y="408" width="1" height="3" fill="#fff"/>
<rect x="485" y="408" width="1" height="3" fill="#000"/>
<rect x="431" y="428" width="56" height="24" fill="#000"/>
<rect x="432" y="429" width="54" height="22" fill="#fff"/>
<rect x="433" y="432" width="7" height="2" fill="#000"/>
<rect x="435" y="431" width="3" height="5" fill="#000"/>
<rect x="441" y="432" width="7" height="2" fill="#000"/>
<rect x="443" y="431" width="3" height="5" fill="#000"/>
<rect x="450" y="432" width="8" height="2" fill="#000"/>
<rect x="452" y="431" width="3" height="5" fill="#000"/>
<rect x="460" y="432" width="7" height="2" fill="#000"/>
<rect x="462" y="431" width="3" height="5" fill="#000"/>
<rect x="469" y="432" width="7" height="2" fill="#000"/>
<rect x="471" y="431" width="3" height="5" fill="#000"/>
<rect x="478" y="432" width="7" height="2" fill="#000"/>
<rect x="480" y="431" width="3" height="5" fill="#000"/>
<rect x="432" y="435" width="54" height="1" fill="#000"/>
<rect x="433" y="438" width="7" height="3" fill="#000"/>
<rect x="441" y="438" width="7" height="3" fill="#000"/>
<rect x="450" y="438" width="8" height="3" fill="#000"/>
<rect x="460" y="438" width="7" height="3" fill="#000"/>
<rect x="469" y="438" width="7" height="3" fill="#000"/>
<rect x="478" y="438" width="7" height="3" fill="#000"/>
<rect x="437" y="442" width="7" height="7" fill="#000"/>
<rect x="438" y="443" width="5" height="5" fill="#fff"/>
<rect x="438" y="441" width="5" height="2" fill="#fff"/>
<rect x="437" y="440" width="1" height="3" fill="#000"/>
<rect x="443" y="440" width="1" height="3" fill="#000"/>
<rect x="446" y="442" width="7" height="7" fill="#000"/>
<rect x="447" y="443" width="5" height="5" fill="#fff"/>
<rect x="447" y="441" width="5" height="2" fill="#fff"/>
<rect x="446" y="440" width="1" height="3" fill="#000"/>
<rect x="452" y="440" width="1" height="3" fill="#000"/>
<rect x="455" y="442" width="7" height="7" fill="#000"/>
<rect x="456" y="443" width="5" height="5" fill="#fff"/>
<rect x="456" y="441" width="5" height="2" fill="#fff"/>
<rect x="455" y="440" width="1" height="3" fill="#000"/>
<rect x="461" y="440" width="1" height="3" fill="#000"/>
<rect x="464" y="442" width="8" height="7" fill="#000"/>
<rect x="465" y="443" width="6" height="5" fill="#fff"/>
<rect x="465" y="441" width="6" height="2" fill="#fff"/>
<rect x="464" y="440" width="1" height="3" fill="#000"/>
<rect x="471" y="440" width="1" height="3" fill="#000"/>
<rect x="474" y="442" width="8" height="7" fill="#000"/>
<rect x="475" y="443" width="6" height="5" fill="#fff"/>
<rect x="475" y="441" width="6" height="2" fill="#fff"/>
<rect x="474" y="440" width="1" height="3" fill="#000"/>
<rect x="481" y="440" width="1" height="3" fill="#000"/>
<rect x="432" y="442" width="3" height="1" fill="#000"/>
<rect x="434" y="442" width="1" height="7" fill="#000"/>
<rect x="432" y="448" width="3" height="1" fill="#000"/>
<rect x="431" y="444" width="1" height="3" fill="#fff"/>
<rect x="432" y="444" width="1" height="3" fill="#000"/>
<rect x="483" y="442" width="3" height="1" fill="#000"/>
<rect x="483" y="442" width="1" height="7" fill="#000"/>
<rect x="483" y="448" width="3" height="1" fill="#000"/>
<rect x="486" y="444" width="1" height="3" fill="#fff"/>
<rect x="485" y="444" width="1" height="3" fill="#000"/>
<rect x="465.0" y="323.0" width="24" height="17" rx="2.6" ry="2.6" fill="#fff" stroke="#000" stroke-width="2" shape-rendering="auto"/>
<text transform="translate(469.4,336) scale(0.78,1)" font-size="14" textLength="16.2" lengthAdjust="spacing" fill="#000" >E3</text>
<polygon points="478.8,340.54 478.68,342.14 477.74,345.01 477.44,353.0 476.53,353.95 476.5,356.51 474.5,356.49 474.53,353.93 473.64,352.96 473.54,344.95 472.68,342.06 472.6,340.46" fill="#000" shape-rendering="auto"/>
<polygon points="476.83,338.21 476.68,342.11 476.14,345.31 475.62,346.9 475.14,345.29 474.68,342.09 474.63,338.19" fill="#fff" shape-rendering="auto"/>
<rect x="517" y="392" width="10" height="21" fill="#000"/>
<rect x="519" y="394" width="6" height="1" fill="#fff"/>
<rect x="519" y="410" width="6" height="1" fill="#fff"/>
<rect x="521" y="400" width="4" height="1" fill="#fff"/>
<rect x="521" y="405" width="4" height="1" fill="#fff"/>
<rect x="524" y="394" width="1" height="17" fill="#fff"/>
<rect x="518" y="393" width="1" height="1" fill="#fff"/>
<rect x="517" y="416" width="10" height="14" fill="#000"/>
<rect x="520" y="417" width="5" height="1" fill="#fff"/>
<rect x="520" y="423" width="5" height="1" fill="#fff"/>
<rect x="524" y="417" width="1" height="12" fill="#fff"/>
<rect x="542.0" y="395.0" width="23" height="15" rx="2.6" ry="2.6" fill="#fff" stroke="#000" stroke-width="2" shape-rendering="auto"/>
<text transform="translate(546.4,407) scale(0.78,1)" font-size="14" textLength="16.2" lengthAdjust="spacing" fill="#000" >J9</text>
<polygon points="541.5,407.8 539.55,406.4 537.0,405.3 533.25,404.55 529.2,404.4 528.3,403.5 526.5,403.5 526.5,401.5 528.3,401.5 529.2,400.6 533.25,400.45 537.0,399.7 539.55,398.6 541.5,397.2" fill="#000" shape-rendering="auto"/>
<polygon points="543.8,404.05 537.3,403.55 534.0,403.0 532.8,402.5 534.0,402.0 537.3,401.45 543.8,400.95" fill="#fff" shape-rendering="auto"/>
<rect x="542.0" y="415.0" width="23" height="16" rx="2.6" ry="2.6" fill="#fff" stroke="#000" stroke-width="2" shape-rendering="auto"/>
<text transform="translate(546.4,428) scale(0.78,1)" font-size="14" textLength="16.2" lengthAdjust="spacing" fill="#000" >J8</text>
<polygon points="541.5,428.8 539.55,427.4 537.0,426.3 533.25,425.55 529.2,425.4 528.3,424.5 526.5,424.5 526.5,422.5 528.3,422.5 529.2,421.6 533.25,421.45 537.0,420.7 539.55,419.6 541.5,418.2" fill="#000" shape-rendering="auto"/>
<polygon points="543.8,425.05 537.3,424.55 534.0,424.0 532.8,423.5 534.0,423.0 537.3,422.45 543.8,421.95" fill="#fff" shape-rendering="auto"/>
<rect x="419" y="411" width="7" height="30" fill="#000"/>
<rect x="420" y="417" width="5" height="1" fill="#fff"/>
<rect x="420" y="423" width="5" height="1" fill="#fff"/>
<rect x="420" y="428" width="5" height="2" fill="#fff"/>
<rect x="420" y="434" width="5" height="2" fill="#fff"/>
<rect x="411.0" y="457.0" width="24" height="17" rx="2.6" ry="2.6" fill="#fff" stroke="#000" stroke-width="2" shape-rendering="auto"/>
<text transform="translate(415.4,470) scale(0.78,1)" font-size="14" textLength="17.4" lengthAdjust="spacing" fill="#000" >J0</text>
<polygon points="420.5,441 424,441 424.5,450 429,458 417,458 421,450" fill="#000" shape-rendering="auto"/>
<polygon points="421.6,458.2 424.8,458.2 423.2,451.5" fill="#fff" shape-rendering="auto"/>
</svg>
</body></html>
